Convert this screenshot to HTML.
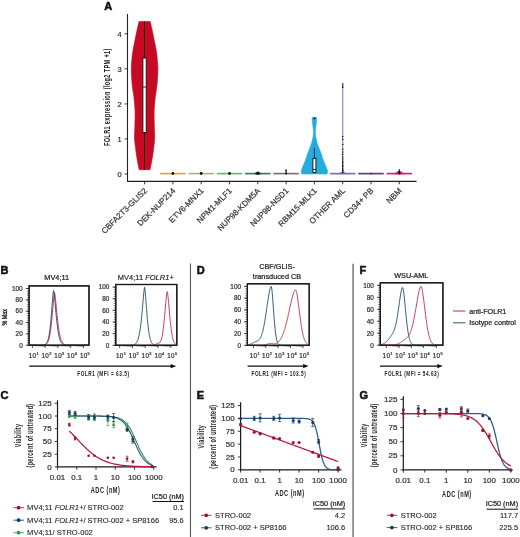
<!DOCTYPE html>
<html><head><meta charset="utf-8"><style>
html,body{margin:0;padding:0;background:#fff;}
body{width:520px;height:537px;overflow:hidden;}
svg{display:block;font-family:"Liberation Sans", sans-serif;will-change:transform;}
</style></head><body>
<svg width="520" height="537" viewBox="0 0 520 537">
<rect x="0" y="0" width="520" height="537" fill="#fff"/>
<text x="104.2" y="9.8" font-size="11" text-anchor="start" fill="#111" font-weight="bold" font-style="normal" stroke="#111" stroke-width="0.55">A</text>
<path d="M150.2 21.5 L150.79 24.01 L151.36 26.52 L151.92 29.04 L152.47 31.55 L153 34.06 L153.52 36.57 L154.02 39.08 L154.52 41.59 L155.04 44.11 L155.55 46.62 L156.04 49.13 L156.46 51.64 L156.81 54.15 L157.07 56.67 L157.32 59.18 L157.55 61.69 L157.74 64.2 L157.86 66.71 L157.9 69.23 L157.86 71.74 L157.77 74.25 L157.63 76.76 L157.47 79.27 L157.29 81.78 L157.09 84.3 L156.81 86.81 L156.46 89.32 L156.08 91.83 L155.69 94.34 L155.34 96.86 L155.06 99.37 L154.84 101.88 L154.61 104.39 L154.41 106.9 L154.24 109.42 L154.13 111.93 L154.1 114.44 L154.12 116.95 L154.17 119.46 L154.23 121.97 L154.29 124.49 L154.36 127 L154.47 129.51 L154.58 132.02 L154.67 134.53 L154.7 137.05 L154.61 139.56 L154.4 142.07 L154.11 144.58 L153.8 147.09 L153.51 149.61 L153.18 152.12 L152.82 154.63 L152.43 157.14 L152.01 159.65 L151.57 162.16 L151.09 164.68 L150.56 167.19 L150 169.7 L139.2 169.7 L138.64 167.19 L138.11 164.68 L137.63 162.16 L137.19 159.65 L136.77 157.14 L136.38 154.63 L136.02 152.12 L135.69 149.61 L135.4 147.09 L135.09 144.58 L134.8 142.07 L134.59 139.56 L134.5 137.05 L134.53 134.53 L134.62 132.02 L134.73 129.51 L134.84 127 L134.91 124.49 L134.97 121.97 L135.03 119.46 L135.08 116.95 L135.1 114.44 L135.07 111.93 L134.96 109.42 L134.79 106.9 L134.59 104.39 L134.36 101.88 L134.14 99.37 L133.86 96.86 L133.51 94.34 L133.12 91.83 L132.74 89.32 L132.39 86.81 L132.11 84.3 L131.91 81.78 L131.73 79.27 L131.57 76.76 L131.43 74.25 L131.34 71.74 L131.3 69.23 L131.34 66.71 L131.46 64.2 L131.65 61.69 L131.88 59.18 L132.13 56.67 L132.39 54.15 L132.74 51.64 L133.16 49.13 L133.65 46.62 L134.16 44.11 L134.68 41.59 L135.18 39.08 L135.68 36.57 L136.2 34.06 L136.73 31.55 L137.28 29.04 L137.84 26.52 L138.41 24.01 L139 21.5 Z" fill="#c60a24" stroke="#c60a24" stroke-width="0.6"/>
<line x1="144.5" y1="21.5" x2="144.5" y2="169.7" stroke="#1a1a1a" stroke-width="0.9"/>
<rect x="142.9" y="58" width="3.3" height="74.5" fill="#fff" stroke="#111" stroke-width="0.9"/>
<line x1="142.9" y1="87" x2="146.2" y2="87" stroke="#111" stroke-width="0.9"/>
<line x1="160.1" y1="173.6" x2="185.7" y2="173.6" stroke="#e6b46c" stroke-width="1.7"/>
<line x1="160.6" y1="173.6" x2="185.2" y2="173.6" stroke="#b08a48" stroke-width="0.5"/>
<line x1="188.4" y1="173.6" x2="214" y2="173.6" stroke="#c6c8b0" stroke-width="1.7"/>
<line x1="188.9" y1="173.6" x2="213.5" y2="173.6" stroke="#8a8c78" stroke-width="0.5"/>
<line x1="216.7" y1="173.6" x2="242.3" y2="173.6" stroke="#8fc585" stroke-width="1.7"/>
<line x1="217.2" y1="173.6" x2="241.8" y2="173.6" stroke="#56964e" stroke-width="0.5"/>
<line x1="245" y1="173.6" x2="270.6" y2="173.6" stroke="#4f8c7a" stroke-width="1.7"/>
<line x1="245.5" y1="173.6" x2="270.1" y2="173.6" stroke="#2a5a4c" stroke-width="0.5"/>
<line x1="273.3" y1="173.6" x2="298.9" y2="173.6" stroke="#8c8494" stroke-width="1.7"/>
<line x1="273.8" y1="173.6" x2="298.4" y2="173.6" stroke="#5a5062" stroke-width="0.5"/>
<line x1="329.9" y1="173.6" x2="355.5" y2="173.6" stroke="#8a88b4" stroke-width="1.7"/>
<line x1="330.4" y1="173.6" x2="355" y2="173.6" stroke="#5a5884" stroke-width="0.5"/>
<line x1="358.2" y1="173.6" x2="383.8" y2="173.6" stroke="#6e4e7e" stroke-width="1.7"/>
<line x1="358.7" y1="173.6" x2="383.3" y2="173.6" stroke="#4a2c5a" stroke-width="0.5"/>
<line x1="386.5" y1="173.6" x2="412.1" y2="173.6" stroke="#da3c82" stroke-width="1.7"/>
<line x1="387" y1="173.6" x2="411.6" y2="173.6" stroke="#a81c5c" stroke-width="0.5"/>
<path d="M252.8 173.9 L257.8 172 L262.8 173.9 Z" fill="#2a5a4c" stroke="none" stroke-width="1"/>
<path d="M335.7 174.2 L342.7 171.6 L349.7 174.2 Z" fill="#7a78b4" stroke="none" stroke-width="1"/>
<path d="M392.8 174.3 L399.3 170.5 L405.8 174.3 Z" fill="#c82a70" stroke="none" stroke-width="1"/>
<circle cx="172.9" cy="173.5" r="1.4" fill="#111"/>
<circle cx="201.2" cy="173.5" r="1.4" fill="#111"/>
<circle cx="229.5" cy="173.5" r="1.4" fill="#111"/>
<circle cx="257.8" cy="173.5" r="1.4" fill="#111"/>
<circle cx="256.3" cy="173.5" r="1" fill="#111"/>
<circle cx="259.3" cy="173.5" r="1" fill="#111"/>
<circle cx="257.8" cy="172.4" r="1" fill="#111"/>
<circle cx="371" cy="173.6" r="0.9" fill="#333"/>
<line x1="286.1" y1="169.8" x2="286.1" y2="173.6" stroke="#111" stroke-width="1.1"/>
<circle cx="286.1" cy="173.4" r="1" fill="#111"/>
<circle cx="286.1" cy="170.4" r="0.8" fill="#111"/>
<line x1="399.3" y1="169" x2="399.3" y2="173.8" stroke="#111" stroke-width="0.9"/>
<circle cx="399.3" cy="171.8" r="1" fill="#111"/>
<circle cx="399.3" cy="173.4" r="1.1" fill="#111"/>
<path d="M316.6 117.6 L316.6 118.56 L316.6 119.51 L316.59 120.47 L316.52 121.42 L316.41 122.38 L316.28 123.34 L316.16 124.29 L316.03 125.25 L315.89 126.2 L315.75 127.16 L315.64 128.12 L315.53 129.07 L315.42 130.03 L315.34 130.98 L315.3 131.94 L315.32 132.89 L315.38 133.85 L315.47 134.81 L315.57 135.76 L315.7 136.72 L315.87 137.67 L316.08 138.63 L316.3 139.59 L316.53 140.54 L316.77 141.5 L317.03 142.45 L317.32 143.41 L317.62 144.37 L317.96 145.32 L318.32 146.28 L318.7 147.23 L319.08 148.19 L319.46 149.15 L319.83 150.1 L320.21 151.06 L320.59 152.01 L320.96 152.97 L321.32 153.93 L321.66 154.88 L321.97 155.84 L322.24 156.79 L322.51 157.75 L322.78 158.71 L323.08 159.66 L323.43 160.62 L323.81 161.57 L324.23 162.53 L324.65 163.48 L325.07 164.44 L325.47 165.4 L325.88 166.35 L326.29 167.31 L326.66 168.26 L326.97 169.22 L327.26 170.18 L327.51 171.13 L327.6 172.09 L327.41 173.04 L327 174 L301.8 174 L301.39 173.04 L301.2 172.09 L301.29 171.13 L301.54 170.18 L301.83 169.22 L302.14 168.26 L302.51 167.31 L302.92 166.35 L303.33 165.4 L303.73 164.44 L304.15 163.48 L304.57 162.53 L304.99 161.57 L305.37 160.62 L305.72 159.66 L306.02 158.71 L306.29 157.75 L306.56 156.79 L306.83 155.84 L307.14 154.88 L307.48 153.93 L307.84 152.97 L308.21 152.01 L308.59 151.06 L308.97 150.1 L309.34 149.15 L309.72 148.19 L310.1 147.23 L310.48 146.28 L310.84 145.32 L311.18 144.37 L311.48 143.41 L311.77 142.45 L312.03 141.5 L312.27 140.54 L312.5 139.59 L312.72 138.63 L312.93 137.67 L313.1 136.72 L313.23 135.76 L313.33 134.81 L313.42 133.85 L313.48 132.89 L313.5 131.94 L313.46 130.98 L313.38 130.03 L313.27 129.07 L313.16 128.12 L313.05 127.16 L312.91 126.2 L312.77 125.25 L312.64 124.29 L312.52 123.34 L312.39 122.38 L312.28 121.42 L312.21 120.47 L312.2 119.51 L312.2 118.56 L312.2 117.6 Z" fill="#26abdf" stroke="#26abdf" stroke-width="0.6"/>
<circle cx="314.4" cy="118.2" r="1" fill="#111"/>
<line x1="314.4" y1="147.8" x2="314.4" y2="158.3" stroke="#111" stroke-width="0.8"/>
<rect x="312.9" y="158.3" width="3" height="14.2" fill="#fff" stroke="#111" stroke-width="0.9"/>
<line x1="312.9" y1="169.5" x2="315.9" y2="169.5" stroke="#111" stroke-width="0.9"/>
<line x1="342.7" y1="83.8" x2="342.7" y2="173.8" stroke="#a09ec6" stroke-width="1.4"/>
<circle cx="342.7" cy="83.9" r="0.75" fill="#111"/>
<circle cx="342.7" cy="86" r="0.75" fill="#111"/>
<circle cx="342.7" cy="87.6" r="0.75" fill="#111"/>
<circle cx="342.7" cy="136.6" r="0.75" fill="#111"/>
<circle cx="342.7" cy="139.5" r="0.75" fill="#111"/>
<circle cx="342.7" cy="144.4" r="0.75" fill="#111"/>
<circle cx="342.7" cy="149.3" r="0.75" fill="#111"/>
<circle cx="342.7" cy="152" r="0.75" fill="#111"/>
<circle cx="342.7" cy="154.2" r="0.75" fill="#111"/>
<circle cx="342.7" cy="157" r="0.75" fill="#111"/>
<circle cx="342.7" cy="159" r="0.75" fill="#111"/>
<circle cx="342.7" cy="161" r="0.75" fill="#111"/>
<circle cx="342.7" cy="162.6" r="0.75" fill="#111"/>
<circle cx="342.7" cy="164" r="0.75" fill="#111"/>
<circle cx="342.7" cy="165.5" r="0.75" fill="#111"/>
<circle cx="342.7" cy="166.6" r="0.75" fill="#111"/>
<circle cx="342.7" cy="168" r="0.75" fill="#111"/>
<circle cx="342.7" cy="168.9" r="0.75" fill="#111"/>
<circle cx="342.7" cy="170" r="0.75" fill="#111"/>
<circle cx="342.7" cy="170.8" r="0.75" fill="#111"/>
<circle cx="342.7" cy="171.8" r="0.75" fill="#111"/>
<circle cx="342.7" cy="172.8" r="0.75" fill="#111"/>
<line x1="127.5" y1="13.9" x2="127.5" y2="181.8" stroke="#222" stroke-width="1.1"/>
<line x1="127" y1="181.3" x2="416.6" y2="181.3" stroke="#222" stroke-width="1.3"/>
<line x1="124.6" y1="174" x2="127.5" y2="174" stroke="#222" stroke-width="0.9"/>
<text x="121.7" y="176.7" font-size="7.5" text-anchor="end" fill="#333" font-weight="normal" font-style="normal" stroke="#333" stroke-width="0.22">0</text>
<line x1="124.6" y1="138.95" x2="127.5" y2="138.95" stroke="#222" stroke-width="0.9"/>
<text x="121.7" y="141.65" font-size="7.5" text-anchor="end" fill="#333" font-weight="normal" font-style="normal" stroke="#333" stroke-width="0.22">1</text>
<line x1="124.6" y1="103.9" x2="127.5" y2="103.9" stroke="#222" stroke-width="0.9"/>
<text x="121.7" y="106.6" font-size="7.5" text-anchor="end" fill="#333" font-weight="normal" font-style="normal" stroke="#333" stroke-width="0.22">2</text>
<line x1="124.6" y1="68.85" x2="127.5" y2="68.85" stroke="#222" stroke-width="0.9"/>
<text x="121.7" y="71.55" font-size="7.5" text-anchor="end" fill="#333" font-weight="normal" font-style="normal" stroke="#333" stroke-width="0.22">3</text>
<line x1="124.6" y1="33.8" x2="127.5" y2="33.8" stroke="#222" stroke-width="0.9"/>
<text x="121.7" y="36.5" font-size="7.5" text-anchor="end" fill="#333" font-weight="normal" font-style="normal" stroke="#333" stroke-width="0.22">4</text>
<line x1="144.6" y1="181.3" x2="144.6" y2="184.3" stroke="#222" stroke-width="0.9"/>
<text x="0" y="0" font-size="8.1" text-anchor="end" fill="#333" font-weight="normal" font-style="normal" transform="translate(147.6,191.3) rotate(-45)" stroke="#333" stroke-width="0.22">CBFA2T3-GLIS2</text>
<line x1="172.9" y1="181.3" x2="172.9" y2="184.3" stroke="#222" stroke-width="0.9"/>
<text x="0" y="0" font-size="8.1" text-anchor="end" fill="#333" font-weight="normal" font-style="normal" transform="translate(175.9,191.3) rotate(-45)" stroke="#333" stroke-width="0.22">DEK-NUP214</text>
<line x1="201.2" y1="181.3" x2="201.2" y2="184.3" stroke="#222" stroke-width="0.9"/>
<text x="0" y="0" font-size="8.1" text-anchor="end" fill="#333" font-weight="normal" font-style="normal" transform="translate(204.2,191.3) rotate(-45)" stroke="#333" stroke-width="0.22">ETV6-MNX1</text>
<line x1="229.5" y1="181.3" x2="229.5" y2="184.3" stroke="#222" stroke-width="0.9"/>
<text x="0" y="0" font-size="8.1" text-anchor="end" fill="#333" font-weight="normal" font-style="normal" transform="translate(232.5,191.3) rotate(-45)" stroke="#333" stroke-width="0.22">NPM1-MLF1</text>
<line x1="257.8" y1="181.3" x2="257.8" y2="184.3" stroke="#222" stroke-width="0.9"/>
<text x="0" y="0" font-size="8.1" text-anchor="end" fill="#333" font-weight="normal" font-style="normal" transform="translate(260.8,191.3) rotate(-45)" stroke="#333" stroke-width="0.22">NUP98-KDM5A</text>
<line x1="286.1" y1="181.3" x2="286.1" y2="184.3" stroke="#222" stroke-width="0.9"/>
<text x="0" y="0" font-size="8.1" text-anchor="end" fill="#333" font-weight="normal" font-style="normal" transform="translate(289.1,191.3) rotate(-45)" stroke="#333" stroke-width="0.22">NUP98-NSD1</text>
<line x1="314.4" y1="181.3" x2="314.4" y2="184.3" stroke="#222" stroke-width="0.9"/>
<text x="0" y="0" font-size="8.1" text-anchor="end" fill="#333" font-weight="normal" font-style="normal" transform="translate(317.4,191.3) rotate(-45)" stroke="#333" stroke-width="0.22">RBM15-MLK1</text>
<line x1="342.7" y1="181.3" x2="342.7" y2="184.3" stroke="#222" stroke-width="0.9"/>
<text x="0" y="0" font-size="8.1" text-anchor="end" fill="#333" font-weight="normal" font-style="normal" transform="translate(345.7,191.3) rotate(-45)" stroke="#333" stroke-width="0.22">OTHER AML</text>
<line x1="371" y1="181.3" x2="371" y2="184.3" stroke="#222" stroke-width="0.9"/>
<text x="0" y="0" font-size="8.1" text-anchor="end" fill="#333" font-weight="normal" font-style="normal" transform="translate(374,191.3) rotate(-45)" stroke="#333" stroke-width="0.22">CD34+ PB</text>
<line x1="399.3" y1="181.3" x2="399.3" y2="184.3" stroke="#222" stroke-width="0.9"/>
<text x="0" y="0" font-size="8.1" text-anchor="end" fill="#333" font-weight="normal" font-style="normal" transform="translate(402.3,191.3) rotate(-45)" stroke="#333" stroke-width="0.22">NBM</text>
<text x="0" y="0" font-size="8.4" text-anchor="middle" fill="#222" font-weight="bold" font-style="normal" transform="translate(110.3,97.2) rotate(-90) scale(0.67,1)" letter-spacing="0.5">FOLR1 expression (log2 TPM +1)</text>
<line x1="190.45" y1="263.5" x2="190.45" y2="537" stroke="#4e4e4e" stroke-width="1.05"/>
<line x1="353.1" y1="263.8" x2="353.1" y2="537" stroke="#6c6c6c" stroke-width="1.4"/>
<text x="0.6" y="274.2" font-size="11" text-anchor="start" fill="#111" font-weight="bold" font-style="normal" stroke="#111" stroke-width="0.55">B</text>
<line x1="25.9" y1="345.2" x2="29.1" y2="345.2" stroke="#222" stroke-width="0.9"/>
<text x="22.7" y="347.5" font-size="6.4" text-anchor="end" fill="#333" font-weight="normal" font-style="normal" stroke="#333" stroke-width="0.22">0</text>
<line x1="25.9" y1="333.86" x2="29.1" y2="333.86" stroke="#222" stroke-width="0.9"/>
<text x="22.7" y="336.16" font-size="6.4" text-anchor="end" fill="#333" font-weight="normal" font-style="normal" stroke="#333" stroke-width="0.22">20</text>
<line x1="25.9" y1="322.52" x2="29.1" y2="322.52" stroke="#222" stroke-width="0.9"/>
<text x="22.7" y="324.82" font-size="6.4" text-anchor="end" fill="#333" font-weight="normal" font-style="normal" stroke="#333" stroke-width="0.22">40</text>
<line x1="25.9" y1="311.18" x2="29.1" y2="311.18" stroke="#222" stroke-width="0.9"/>
<text x="22.7" y="313.48" font-size="6.4" text-anchor="end" fill="#333" font-weight="normal" font-style="normal" stroke="#333" stroke-width="0.22">60</text>
<line x1="25.9" y1="299.84" x2="29.1" y2="299.84" stroke="#222" stroke-width="0.9"/>
<text x="22.7" y="302.14" font-size="6.4" text-anchor="end" fill="#333" font-weight="normal" font-style="normal" stroke="#333" stroke-width="0.22">80</text>
<line x1="25.9" y1="288.5" x2="29.1" y2="288.5" stroke="#222" stroke-width="0.9"/>
<text x="22.7" y="290.8" font-size="6.4" text-anchor="end" fill="#333" font-weight="normal" font-style="normal" stroke="#333" stroke-width="0.22">100</text>
<line x1="27.2" y1="345.2" x2="29.1" y2="345.2" stroke="#333" stroke-width="0.75"/>
<line x1="27.2" y1="342.93" x2="29.1" y2="342.93" stroke="#333" stroke-width="0.75"/>
<line x1="27.2" y1="340.66" x2="29.1" y2="340.66" stroke="#333" stroke-width="0.75"/>
<line x1="27.2" y1="338.4" x2="29.1" y2="338.4" stroke="#333" stroke-width="0.75"/>
<line x1="27.2" y1="336.13" x2="29.1" y2="336.13" stroke="#333" stroke-width="0.75"/>
<line x1="27.2" y1="333.86" x2="29.1" y2="333.86" stroke="#333" stroke-width="0.75"/>
<line x1="27.2" y1="331.59" x2="29.1" y2="331.59" stroke="#333" stroke-width="0.75"/>
<line x1="27.2" y1="329.32" x2="29.1" y2="329.32" stroke="#333" stroke-width="0.75"/>
<line x1="27.2" y1="327.06" x2="29.1" y2="327.06" stroke="#333" stroke-width="0.75"/>
<line x1="27.2" y1="324.79" x2="29.1" y2="324.79" stroke="#333" stroke-width="0.75"/>
<line x1="27.2" y1="322.52" x2="29.1" y2="322.52" stroke="#333" stroke-width="0.75"/>
<line x1="27.2" y1="320.25" x2="29.1" y2="320.25" stroke="#333" stroke-width="0.75"/>
<line x1="27.2" y1="317.98" x2="29.1" y2="317.98" stroke="#333" stroke-width="0.75"/>
<line x1="27.2" y1="315.72" x2="29.1" y2="315.72" stroke="#333" stroke-width="0.75"/>
<line x1="27.2" y1="313.45" x2="29.1" y2="313.45" stroke="#333" stroke-width="0.75"/>
<line x1="27.2" y1="311.18" x2="29.1" y2="311.18" stroke="#333" stroke-width="0.75"/>
<line x1="27.2" y1="308.91" x2="29.1" y2="308.91" stroke="#333" stroke-width="0.75"/>
<line x1="27.2" y1="306.64" x2="29.1" y2="306.64" stroke="#333" stroke-width="0.75"/>
<line x1="27.2" y1="304.38" x2="29.1" y2="304.38" stroke="#333" stroke-width="0.75"/>
<line x1="27.2" y1="302.11" x2="29.1" y2="302.11" stroke="#333" stroke-width="0.75"/>
<line x1="27.2" y1="299.84" x2="29.1" y2="299.84" stroke="#333" stroke-width="0.75"/>
<line x1="27.2" y1="297.57" x2="29.1" y2="297.57" stroke="#333" stroke-width="0.75"/>
<line x1="27.2" y1="295.3" x2="29.1" y2="295.3" stroke="#333" stroke-width="0.75"/>
<line x1="27.2" y1="293.04" x2="29.1" y2="293.04" stroke="#333" stroke-width="0.75"/>
<line x1="27.2" y1="290.77" x2="29.1" y2="290.77" stroke="#333" stroke-width="0.75"/>
<line x1="27.2" y1="288.5" x2="29.1" y2="288.5" stroke="#333" stroke-width="0.75"/>
<line x1="32.4" y1="345.2" x2="32.4" y2="348" stroke="#222" stroke-width="0.8"/>
<line x1="36.25" y1="345.2" x2="36.25" y2="346.7" stroke="#333" stroke-width="0.5"/>
<line x1="38.51" y1="345.2" x2="38.51" y2="346.7" stroke="#333" stroke-width="0.5"/>
<line x1="40.11" y1="345.2" x2="40.11" y2="346.7" stroke="#333" stroke-width="0.5"/>
<line x1="41.35" y1="345.2" x2="41.35" y2="346.7" stroke="#333" stroke-width="0.5"/>
<line x1="42.36" y1="345.2" x2="42.36" y2="346.7" stroke="#333" stroke-width="0.5"/>
<line x1="43.22" y1="345.2" x2="43.22" y2="346.7" stroke="#333" stroke-width="0.5"/>
<line x1="43.96" y1="345.2" x2="43.96" y2="346.7" stroke="#333" stroke-width="0.5"/>
<line x1="44.61" y1="345.2" x2="44.61" y2="346.7" stroke="#333" stroke-width="0.5"/>
<text x="28.7" y="357.6" font-size="6.3" text-anchor="start" fill="#333" font-weight="normal" font-style="normal" letter-spacing="0.35" stroke="#333" stroke-width="0.22">10</text>
<text x="36.4" y="354.5" font-size="3.9" text-anchor="start" fill="#333" font-weight="normal" font-style="normal" stroke="#333" stroke-width="0.22">1</text>
<line x1="45.2" y1="345.2" x2="45.2" y2="348" stroke="#222" stroke-width="0.8"/>
<line x1="49.05" y1="345.2" x2="49.05" y2="346.7" stroke="#333" stroke-width="0.5"/>
<line x1="51.31" y1="345.2" x2="51.31" y2="346.7" stroke="#333" stroke-width="0.5"/>
<line x1="52.91" y1="345.2" x2="52.91" y2="346.7" stroke="#333" stroke-width="0.5"/>
<line x1="54.15" y1="345.2" x2="54.15" y2="346.7" stroke="#333" stroke-width="0.5"/>
<line x1="55.16" y1="345.2" x2="55.16" y2="346.7" stroke="#333" stroke-width="0.5"/>
<line x1="56.02" y1="345.2" x2="56.02" y2="346.7" stroke="#333" stroke-width="0.5"/>
<line x1="56.76" y1="345.2" x2="56.76" y2="346.7" stroke="#333" stroke-width="0.5"/>
<line x1="57.41" y1="345.2" x2="57.41" y2="346.7" stroke="#333" stroke-width="0.5"/>
<text x="41.5" y="357.6" font-size="6.3" text-anchor="start" fill="#333" font-weight="normal" font-style="normal" letter-spacing="0.35" stroke="#333" stroke-width="0.22">10</text>
<text x="49.2" y="354.5" font-size="3.9" text-anchor="start" fill="#333" font-weight="normal" font-style="normal" stroke="#333" stroke-width="0.22">2</text>
<line x1="58" y1="345.2" x2="58" y2="348" stroke="#222" stroke-width="0.8"/>
<line x1="61.85" y1="345.2" x2="61.85" y2="346.7" stroke="#333" stroke-width="0.5"/>
<line x1="64.11" y1="345.2" x2="64.11" y2="346.7" stroke="#333" stroke-width="0.5"/>
<line x1="65.71" y1="345.2" x2="65.71" y2="346.7" stroke="#333" stroke-width="0.5"/>
<line x1="66.95" y1="345.2" x2="66.95" y2="346.7" stroke="#333" stroke-width="0.5"/>
<line x1="67.96" y1="345.2" x2="67.96" y2="346.7" stroke="#333" stroke-width="0.5"/>
<line x1="68.82" y1="345.2" x2="68.82" y2="346.7" stroke="#333" stroke-width="0.5"/>
<line x1="69.56" y1="345.2" x2="69.56" y2="346.7" stroke="#333" stroke-width="0.5"/>
<line x1="70.21" y1="345.2" x2="70.21" y2="346.7" stroke="#333" stroke-width="0.5"/>
<text x="54.3" y="357.6" font-size="6.3" text-anchor="start" fill="#333" font-weight="normal" font-style="normal" letter-spacing="0.35" stroke="#333" stroke-width="0.22">10</text>
<text x="62" y="354.5" font-size="3.9" text-anchor="start" fill="#333" font-weight="normal" font-style="normal" stroke="#333" stroke-width="0.22">3</text>
<line x1="70.8" y1="345.2" x2="70.8" y2="348" stroke="#222" stroke-width="0.8"/>
<line x1="74.65" y1="345.2" x2="74.65" y2="346.7" stroke="#333" stroke-width="0.5"/>
<line x1="76.91" y1="345.2" x2="76.91" y2="346.7" stroke="#333" stroke-width="0.5"/>
<line x1="78.51" y1="345.2" x2="78.51" y2="346.7" stroke="#333" stroke-width="0.5"/>
<line x1="79.75" y1="345.2" x2="79.75" y2="346.7" stroke="#333" stroke-width="0.5"/>
<line x1="80.76" y1="345.2" x2="80.76" y2="346.7" stroke="#333" stroke-width="0.5"/>
<line x1="81.62" y1="345.2" x2="81.62" y2="346.7" stroke="#333" stroke-width="0.5"/>
<line x1="82.36" y1="345.2" x2="82.36" y2="346.7" stroke="#333" stroke-width="0.5"/>
<line x1="83.01" y1="345.2" x2="83.01" y2="346.7" stroke="#333" stroke-width="0.5"/>
<text x="67.1" y="357.6" font-size="6.3" text-anchor="start" fill="#333" font-weight="normal" font-style="normal" letter-spacing="0.35" stroke="#333" stroke-width="0.22">10</text>
<text x="74.8" y="354.5" font-size="3.9" text-anchor="start" fill="#333" font-weight="normal" font-style="normal" stroke="#333" stroke-width="0.22">4</text>
<line x1="83.6" y1="345.2" x2="83.6" y2="348" stroke="#222" stroke-width="0.8"/>
<text x="79.9" y="357.6" font-size="6.3" text-anchor="start" fill="#333" font-weight="normal" font-style="normal" letter-spacing="0.35" stroke="#333" stroke-width="0.22">10</text>
<text x="87.6" y="354.5" font-size="3.9" text-anchor="start" fill="#333" font-weight="normal" font-style="normal" stroke="#333" stroke-width="0.22">5</text>
<rect x="29.1" y="285.9" width="59.9" height="59.3" fill="none" stroke="#1a1a1a" stroke-width="1.2"/>
<path d="M29.5 345.2 L29.8 345.2 L30.09 345.2 L30.39 345.2 L30.69 345.2 L30.98 345.2 L31.28 345.2 L31.58 345.2 L31.88 345.2 L32.17 345.2 L32.47 345.2 L32.77 345.2 L33.06 345.2 L33.36 345.2 L33.66 345.2 L33.95 345.2 L34.25 345.2 L34.55 345.2 L34.85 345.2 L35.14 345.2 L35.44 345.2 L35.74 345.2 L36.03 345.2 L36.33 345.2 L36.63 345.2 L36.92 345.2 L37.22 345.2 L37.52 345.2 L37.82 345.2 L38.11 345.2 L38.41 345.2 L38.71 345.2 L39 345.2 L39.3 345.2 L39.6 345.2 L39.89 345.19 L40.19 345.19 L40.49 345.19 L40.79 345.19 L41.08 345.18 L41.38 345.18 L41.68 345.17 L41.97 345.16 L42.27 345.15 L42.57 345.14 L42.86 345.12 L43.16 345.1 L43.46 345.07 L43.76 345.04 L44.05 344.99 L44.35 344.94 L44.65 344.87 L44.94 344.79 L45.24 344.69 L45.54 344.56 L45.83 344.4 L46.13 344.21 L46.43 343.98 L46.73 343.7 L47.02 343.37 L47.32 342.97 L47.62 342.49 L47.91 341.92 L48.21 341.25 L48.51 340.47 L48.8 339.55 L49.1 338.49 L49.4 337.26 L49.69 335.85 L49.99 334.26 L50.29 332.45 L50.59 330.42 L50.88 328.17 L51.18 325.68 L51.48 322.96 L51.77 320.02 L52.07 316.88 L52.37 313.58 L52.66 310.14 L52.96 306.65 L53.26 303.18 L53.56 299.84 L53.85 296.78 L54.15 294.22 L54.45 292.56 L54.74 293.3 L55.04 295.2 L55.34 297.62 L55.63 300.37 L55.93 303.31 L56.23 306.35 L56.53 309.41 L56.82 312.43 L57.12 315.38 L57.42 318.21 L57.71 320.89 L58.01 323.42 L58.31 325.78 L58.6 327.96 L58.9 329.96 L59.2 331.79 L59.5 333.45 L59.79 334.94 L60.09 336.28 L60.39 337.47 L60.68 338.53 L60.98 339.46 L61.28 340.28 L61.57 341 L61.87 341.62 L62.17 342.17 L62.47 342.63 L62.76 343.04 L63.06 343.38 L63.36 343.68 L63.65 343.93 L63.95 344.14 L64.25 344.32 L64.54 344.47 L64.84 344.6 L65.14 344.7 L65.44 344.79 L65.73 344.87 L66.03 344.93 L66.33 344.98 L66.62 345.02 L66.92 345.05 L67.22 345.08 L67.51 345.1 L67.81 345.12 L68.11 345.14 L68.41 345.15 L68.7 345.16 L69 345.17 L69.3 345.17 L69.59 345.18 L69.89 345.18 L70.19 345.19 L70.48 345.19 L70.78 345.19 L71.08 345.19 L71.37 345.2 L71.67 345.2 L71.97 345.2 L72.27 345.2 L72.56 345.2 L72.86 345.2 L73.16 345.2 L73.45 345.2 L73.75 345.2 L74.05 345.2 L74.34 345.2 L74.64 345.2 L74.94 345.2 L75.24 345.2 L75.53 345.2 L75.83 345.2 L76.13 345.2 L76.42 345.2 L76.72 345.2 L77.02 345.2 L77.31 345.2 L77.61 345.2 L77.91 345.2 L78.21 345.2 L78.5 345.2 L78.8 345.2 L79.1 345.2 L79.39 345.2 L79.69 345.2 L79.99 345.2 L80.28 345.2 L80.58 345.2 L80.88 345.2 L81.18 345.2 L81.47 345.2 L81.77 345.2 L82.07 345.2 L82.36 345.2 L82.66 345.2 L82.96 345.2 L83.25 345.2 L83.55 345.2 L83.85 345.2 L84.15 345.2 L84.44 345.2 L84.74 345.2 L85.04 345.2 L85.33 345.2 L85.63 345.2 L85.93 345.2 L86.22 345.2 L86.52 345.2 L86.82 345.2 L87.12 345.2 L87.41 345.2 L87.71 345.2 L88.01 345.2 L88.3 345.2 L88.6 345.2" fill="none" stroke="#c22a4c" stroke-width="0.9" stroke-linejoin="round"/>
<path d="M29.5 345.2 L29.8 345.2 L30.09 345.2 L30.39 345.2 L30.69 345.2 L30.98 345.2 L31.28 345.2 L31.58 345.2 L31.88 345.2 L32.17 345.2 L32.47 345.2 L32.77 345.2 L33.06 345.2 L33.36 345.2 L33.66 345.2 L33.95 345.2 L34.25 345.2 L34.55 345.2 L34.85 345.2 L35.14 345.2 L35.44 345.2 L35.74 345.2 L36.03 345.2 L36.33 345.2 L36.63 345.2 L36.92 345.2 L37.22 345.2 L37.52 345.2 L37.82 345.2 L38.11 345.2 L38.41 345.2 L38.71 345.2 L39 345.2 L39.3 345.2 L39.6 345.19 L39.89 345.19 L40.19 345.19 L40.49 345.19 L40.79 345.18 L41.08 345.18 L41.38 345.17 L41.68 345.16 L41.97 345.15 L42.27 345.14 L42.57 345.12 L42.86 345.09 L43.16 345.06 L43.46 345.02 L43.76 344.97 L44.05 344.9 L44.35 344.82 L44.65 344.72 L44.94 344.59 L45.24 344.44 L45.54 344.24 L45.83 344.01 L46.13 343.72 L46.43 343.37 L46.73 342.94 L47.02 342.43 L47.32 341.81 L47.62 341.09 L47.91 340.22 L48.21 339.21 L48.51 338.03 L48.8 336.66 L49.1 335.07 L49.4 333.27 L49.69 331.22 L49.99 328.91 L50.29 326.34 L50.59 323.51 L50.88 320.41 L51.18 317.08 L51.48 313.54 L51.77 309.83 L52.07 306.04 L52.37 302.24 L52.66 298.57 L52.96 295.21 L53.26 292.39 L53.56 290.58 L53.85 291.48 L54.15 293.6 L54.45 296.27 L54.74 299.29 L55.04 302.5 L55.34 305.8 L55.63 309.11 L55.93 312.36 L56.23 315.5 L56.53 318.5 L56.82 321.33 L57.12 323.97 L57.42 326.41 L57.71 328.65 L58.01 330.7 L58.31 332.55 L58.6 334.21 L58.9 335.69 L59.2 337.01 L59.5 338.17 L59.79 339.19 L60.09 340.08 L60.39 340.86 L60.68 341.53 L60.98 342.11 L61.28 342.61 L61.57 343.03 L61.87 343.39 L62.17 343.7 L62.47 343.96 L62.76 344.17 L63.06 344.35 L63.36 344.51 L63.65 344.63 L63.95 344.74 L64.25 344.82 L64.54 344.9 L64.84 344.95 L65.14 345 L65.44 345.04 L65.73 345.07 L66.03 345.1 L66.33 345.12 L66.62 345.14 L66.92 345.15 L67.22 345.16 L67.51 345.17 L67.81 345.17 L68.11 345.18 L68.41 345.18 L68.7 345.19 L69 345.19 L69.3 345.19 L69.59 345.19 L69.89 345.2 L70.19 345.2 L70.48 345.2 L70.78 345.2 L71.08 345.2 L71.37 345.2 L71.67 345.2 L71.97 345.2 L72.27 345.2 L72.56 345.2 L72.86 345.2 L73.16 345.2 L73.45 345.2 L73.75 345.2 L74.05 345.2 L74.34 345.2 L74.64 345.2 L74.94 345.2 L75.24 345.2 L75.53 345.2 L75.83 345.2 L76.13 345.2 L76.42 345.2 L76.72 345.2 L77.02 345.2 L77.31 345.2 L77.61 345.2 L77.91 345.2 L78.21 345.2 L78.5 345.2 L78.8 345.2 L79.1 345.2 L79.39 345.2 L79.69 345.2 L79.99 345.2 L80.28 345.2 L80.58 345.2 L80.88 345.2 L81.18 345.2 L81.47 345.2 L81.77 345.2 L82.07 345.2 L82.36 345.2 L82.66 345.2 L82.96 345.2 L83.25 345.2 L83.55 345.2 L83.85 345.2 L84.15 345.2 L84.44 345.2 L84.74 345.2 L85.04 345.2 L85.33 345.2 L85.63 345.2 L85.93 345.2 L86.22 345.2 L86.52 345.2 L86.82 345.2 L87.12 345.2 L87.41 345.2 L87.71 345.2 L88.01 345.2 L88.3 345.2 L88.6 345.2" fill="none" stroke="#263f68" stroke-width="0.9" stroke-linejoin="round"/>
<rect x="29.1" y="285.9" width="59.9" height="59.3" fill="none" stroke="#1a1a1a" stroke-width="1.2"/>
<text x="56.7" y="279.9" font-size="7.4" text-anchor="middle" fill="#222" font-weight="normal" font-style="normal" stroke="#222" stroke-width="0.22">MV4;11</text>
<text x="0" y="0" font-size="7.5" text-anchor="middle" fill="#222" font-weight="normal" font-style="normal" transform="translate(6.5,317.4) rotate(-90) scale(0.72,1)" stroke="#222" stroke-width="0.3">% Max</text>
<line x1="112.6" y1="345.3" x2="115.8" y2="345.3" stroke="#222" stroke-width="0.9"/>
<text x="109.4" y="347.6" font-size="6.4" text-anchor="end" fill="#333" font-weight="normal" font-style="normal" stroke="#333" stroke-width="0.22">0</text>
<line x1="112.6" y1="333.66" x2="115.8" y2="333.66" stroke="#222" stroke-width="0.9"/>
<text x="109.4" y="335.96" font-size="6.4" text-anchor="end" fill="#333" font-weight="normal" font-style="normal" stroke="#333" stroke-width="0.22">20</text>
<line x1="112.6" y1="322.02" x2="115.8" y2="322.02" stroke="#222" stroke-width="0.9"/>
<text x="109.4" y="324.32" font-size="6.4" text-anchor="end" fill="#333" font-weight="normal" font-style="normal" stroke="#333" stroke-width="0.22">40</text>
<line x1="112.6" y1="310.38" x2="115.8" y2="310.38" stroke="#222" stroke-width="0.9"/>
<text x="109.4" y="312.68" font-size="6.4" text-anchor="end" fill="#333" font-weight="normal" font-style="normal" stroke="#333" stroke-width="0.22">60</text>
<line x1="112.6" y1="298.74" x2="115.8" y2="298.74" stroke="#222" stroke-width="0.9"/>
<text x="109.4" y="301.04" font-size="6.4" text-anchor="end" fill="#333" font-weight="normal" font-style="normal" stroke="#333" stroke-width="0.22">80</text>
<line x1="112.6" y1="287.1" x2="115.8" y2="287.1" stroke="#222" stroke-width="0.9"/>
<text x="109.4" y="289.4" font-size="6.4" text-anchor="end" fill="#333" font-weight="normal" font-style="normal" stroke="#333" stroke-width="0.22">100</text>
<line x1="113.9" y1="345.3" x2="115.8" y2="345.3" stroke="#333" stroke-width="0.75"/>
<line x1="113.9" y1="342.97" x2="115.8" y2="342.97" stroke="#333" stroke-width="0.75"/>
<line x1="113.9" y1="340.64" x2="115.8" y2="340.64" stroke="#333" stroke-width="0.75"/>
<line x1="113.9" y1="338.32" x2="115.8" y2="338.32" stroke="#333" stroke-width="0.75"/>
<line x1="113.9" y1="335.99" x2="115.8" y2="335.99" stroke="#333" stroke-width="0.75"/>
<line x1="113.9" y1="333.66" x2="115.8" y2="333.66" stroke="#333" stroke-width="0.75"/>
<line x1="113.9" y1="331.33" x2="115.8" y2="331.33" stroke="#333" stroke-width="0.75"/>
<line x1="113.9" y1="329" x2="115.8" y2="329" stroke="#333" stroke-width="0.75"/>
<line x1="113.9" y1="326.68" x2="115.8" y2="326.68" stroke="#333" stroke-width="0.75"/>
<line x1="113.9" y1="324.35" x2="115.8" y2="324.35" stroke="#333" stroke-width="0.75"/>
<line x1="113.9" y1="322.02" x2="115.8" y2="322.02" stroke="#333" stroke-width="0.75"/>
<line x1="113.9" y1="319.69" x2="115.8" y2="319.69" stroke="#333" stroke-width="0.75"/>
<line x1="113.9" y1="317.36" x2="115.8" y2="317.36" stroke="#333" stroke-width="0.75"/>
<line x1="113.9" y1="315.04" x2="115.8" y2="315.04" stroke="#333" stroke-width="0.75"/>
<line x1="113.9" y1="312.71" x2="115.8" y2="312.71" stroke="#333" stroke-width="0.75"/>
<line x1="113.9" y1="310.38" x2="115.8" y2="310.38" stroke="#333" stroke-width="0.75"/>
<line x1="113.9" y1="308.05" x2="115.8" y2="308.05" stroke="#333" stroke-width="0.75"/>
<line x1="113.9" y1="305.72" x2="115.8" y2="305.72" stroke="#333" stroke-width="0.75"/>
<line x1="113.9" y1="303.4" x2="115.8" y2="303.4" stroke="#333" stroke-width="0.75"/>
<line x1="113.9" y1="301.07" x2="115.8" y2="301.07" stroke="#333" stroke-width="0.75"/>
<line x1="113.9" y1="298.74" x2="115.8" y2="298.74" stroke="#333" stroke-width="0.75"/>
<line x1="113.9" y1="296.41" x2="115.8" y2="296.41" stroke="#333" stroke-width="0.75"/>
<line x1="113.9" y1="294.08" x2="115.8" y2="294.08" stroke="#333" stroke-width="0.75"/>
<line x1="113.9" y1="291.76" x2="115.8" y2="291.76" stroke="#333" stroke-width="0.75"/>
<line x1="113.9" y1="289.43" x2="115.8" y2="289.43" stroke="#333" stroke-width="0.75"/>
<line x1="113.9" y1="287.1" x2="115.8" y2="287.1" stroke="#333" stroke-width="0.75"/>
<line x1="119.7" y1="345.3" x2="119.7" y2="348.1" stroke="#222" stroke-width="0.8"/>
<line x1="123.55" y1="345.3" x2="123.55" y2="346.8" stroke="#333" stroke-width="0.5"/>
<line x1="125.81" y1="345.3" x2="125.81" y2="346.8" stroke="#333" stroke-width="0.5"/>
<line x1="127.41" y1="345.3" x2="127.41" y2="346.8" stroke="#333" stroke-width="0.5"/>
<line x1="128.65" y1="345.3" x2="128.65" y2="346.8" stroke="#333" stroke-width="0.5"/>
<line x1="129.66" y1="345.3" x2="129.66" y2="346.8" stroke="#333" stroke-width="0.5"/>
<line x1="130.52" y1="345.3" x2="130.52" y2="346.8" stroke="#333" stroke-width="0.5"/>
<line x1="131.26" y1="345.3" x2="131.26" y2="346.8" stroke="#333" stroke-width="0.5"/>
<line x1="131.91" y1="345.3" x2="131.91" y2="346.8" stroke="#333" stroke-width="0.5"/>
<text x="116" y="357.7" font-size="6.3" text-anchor="start" fill="#333" font-weight="normal" font-style="normal" letter-spacing="0.35" stroke="#333" stroke-width="0.22">10</text>
<text x="123.7" y="354.6" font-size="3.9" text-anchor="start" fill="#333" font-weight="normal" font-style="normal" stroke="#333" stroke-width="0.22">1</text>
<line x1="132.5" y1="345.3" x2="132.5" y2="348.1" stroke="#222" stroke-width="0.8"/>
<line x1="136.35" y1="345.3" x2="136.35" y2="346.8" stroke="#333" stroke-width="0.5"/>
<line x1="138.61" y1="345.3" x2="138.61" y2="346.8" stroke="#333" stroke-width="0.5"/>
<line x1="140.21" y1="345.3" x2="140.21" y2="346.8" stroke="#333" stroke-width="0.5"/>
<line x1="141.45" y1="345.3" x2="141.45" y2="346.8" stroke="#333" stroke-width="0.5"/>
<line x1="142.46" y1="345.3" x2="142.46" y2="346.8" stroke="#333" stroke-width="0.5"/>
<line x1="143.32" y1="345.3" x2="143.32" y2="346.8" stroke="#333" stroke-width="0.5"/>
<line x1="144.06" y1="345.3" x2="144.06" y2="346.8" stroke="#333" stroke-width="0.5"/>
<line x1="144.71" y1="345.3" x2="144.71" y2="346.8" stroke="#333" stroke-width="0.5"/>
<text x="128.8" y="357.7" font-size="6.3" text-anchor="start" fill="#333" font-weight="normal" font-style="normal" letter-spacing="0.35" stroke="#333" stroke-width="0.22">10</text>
<text x="136.5" y="354.6" font-size="3.9" text-anchor="start" fill="#333" font-weight="normal" font-style="normal" stroke="#333" stroke-width="0.22">2</text>
<line x1="145.3" y1="345.3" x2="145.3" y2="348.1" stroke="#222" stroke-width="0.8"/>
<line x1="149.15" y1="345.3" x2="149.15" y2="346.8" stroke="#333" stroke-width="0.5"/>
<line x1="151.41" y1="345.3" x2="151.41" y2="346.8" stroke="#333" stroke-width="0.5"/>
<line x1="153.01" y1="345.3" x2="153.01" y2="346.8" stroke="#333" stroke-width="0.5"/>
<line x1="154.25" y1="345.3" x2="154.25" y2="346.8" stroke="#333" stroke-width="0.5"/>
<line x1="155.26" y1="345.3" x2="155.26" y2="346.8" stroke="#333" stroke-width="0.5"/>
<line x1="156.12" y1="345.3" x2="156.12" y2="346.8" stroke="#333" stroke-width="0.5"/>
<line x1="156.86" y1="345.3" x2="156.86" y2="346.8" stroke="#333" stroke-width="0.5"/>
<line x1="157.51" y1="345.3" x2="157.51" y2="346.8" stroke="#333" stroke-width="0.5"/>
<text x="141.6" y="357.7" font-size="6.3" text-anchor="start" fill="#333" font-weight="normal" font-style="normal" letter-spacing="0.35" stroke="#333" stroke-width="0.22">10</text>
<text x="149.3" y="354.6" font-size="3.9" text-anchor="start" fill="#333" font-weight="normal" font-style="normal" stroke="#333" stroke-width="0.22">3</text>
<line x1="158.1" y1="345.3" x2="158.1" y2="348.1" stroke="#222" stroke-width="0.8"/>
<line x1="161.95" y1="345.3" x2="161.95" y2="346.8" stroke="#333" stroke-width="0.5"/>
<line x1="164.21" y1="345.3" x2="164.21" y2="346.8" stroke="#333" stroke-width="0.5"/>
<line x1="165.81" y1="345.3" x2="165.81" y2="346.8" stroke="#333" stroke-width="0.5"/>
<line x1="167.05" y1="345.3" x2="167.05" y2="346.8" stroke="#333" stroke-width="0.5"/>
<line x1="168.06" y1="345.3" x2="168.06" y2="346.8" stroke="#333" stroke-width="0.5"/>
<line x1="168.92" y1="345.3" x2="168.92" y2="346.8" stroke="#333" stroke-width="0.5"/>
<line x1="169.66" y1="345.3" x2="169.66" y2="346.8" stroke="#333" stroke-width="0.5"/>
<line x1="170.31" y1="345.3" x2="170.31" y2="346.8" stroke="#333" stroke-width="0.5"/>
<text x="154.4" y="357.7" font-size="6.3" text-anchor="start" fill="#333" font-weight="normal" font-style="normal" letter-spacing="0.35" stroke="#333" stroke-width="0.22">10</text>
<text x="162.1" y="354.6" font-size="3.9" text-anchor="start" fill="#333" font-weight="normal" font-style="normal" stroke="#333" stroke-width="0.22">4</text>
<line x1="170.9" y1="345.3" x2="170.9" y2="348.1" stroke="#222" stroke-width="0.8"/>
<text x="167.2" y="357.7" font-size="6.3" text-anchor="start" fill="#333" font-weight="normal" font-style="normal" letter-spacing="0.35" stroke="#333" stroke-width="0.22">10</text>
<text x="174.9" y="354.6" font-size="3.9" text-anchor="start" fill="#333" font-weight="normal" font-style="normal" stroke="#333" stroke-width="0.22">5</text>
<rect x="115.8" y="284.5" width="61" height="60.8" fill="none" stroke="#1a1a1a" stroke-width="1.2"/>
<path d="M116.8 345.3 L117.1 345.3 L117.4 345.3 L117.7 345.3 L118 345.3 L118.3 345.3 L118.6 345.3 L118.9 345.3 L119.2 345.3 L119.5 345.3 L119.8 345.3 L120.1 345.3 L120.4 345.3 L120.7 345.3 L121 345.3 L121.3 345.3 L121.6 345.3 L121.9 345.3 L122.2 345.3 L122.5 345.3 L122.8 345.3 L123.1 345.3 L123.4 345.3 L123.7 345.3 L124 345.3 L124.3 345.3 L124.6 345.3 L124.9 345.3 L125.2 345.3 L125.5 345.3 L125.8 345.3 L126.1 345.3 L126.4 345.3 L126.7 345.3 L127 345.3 L127.3 345.29 L127.6 345.29 L127.9 345.29 L128.2 345.29 L128.5 345.29 L128.8 345.28 L129.1 345.28 L129.4 345.27 L129.7 345.27 L130 345.26 L130.3 345.25 L130.6 345.24 L130.9 345.22 L131.2 345.21 L131.5 345.18 L131.8 345.16 L132.1 345.13 L132.4 345.09 L132.7 345.04 L133 344.98 L133.3 344.92 L133.6 344.84 L133.9 344.74 L134.2 344.62 L134.5 344.48 L134.8 344.32 L135.1 344.13 L135.4 343.9 L135.7 343.63 L136 343.32 L136.3 342.95 L136.6 342.52 L136.9 342.03 L137.2 341.45 L137.5 340.79 L137.8 340.04 L138.1 339.17 L138.4 338.18 L138.7 337.06 L139 335.8 L139.3 334.37 L139.6 332.78 L139.9 331.01 L140.2 329.05 L140.5 326.9 L140.8 324.54 L141.1 321.97 L141.4 319.21 L141.7 316.25 L142 313.12 L142.3 309.83 L142.6 306.42 L142.9 302.94 L143.2 299.46 L143.5 296.04 L143.8 292.81 L144.1 289.93 L144.4 287.66 L144.7 287.2 L145 289.59 L145.3 292.87 L145.6 296.6 L145.9 300.56 L146.2 304.57 L146.5 308.54 L146.8 312.36 L147.1 316 L147.4 319.4 L147.7 322.55 L148 325.43 L148.3 328.04 L148.6 330.38 L148.9 332.47 L149.2 334.32 L149.5 335.95 L149.8 337.37 L150.1 338.61 L150.4 339.67 L150.7 340.59 L151 341.37 L151.3 342.04 L151.6 342.6 L151.9 343.07 L152.2 343.47 L152.5 343.8 L152.8 344.08 L153.1 344.31 L153.4 344.49 L153.7 344.65 L154 344.78 L154.3 344.88 L154.6 344.96 L154.9 345.03 L155.2 345.09 L155.5 345.13 L155.8 345.17 L156.1 345.19 L156.4 345.22 L156.7 345.23 L157 345.25 L157.3 345.26 L157.6 345.27 L157.9 345.28 L158.2 345.28 L158.5 345.29 L158.8 345.29 L159.1 345.29 L159.4 345.29 L159.7 345.3 L160 345.3 L160.3 345.3 L160.6 345.3 L160.9 345.3 L161.2 345.3 L161.5 345.3 L161.8 345.3 L162.1 345.3 L162.4 345.3 L162.7 345.3 L163 345.3 L163.3 345.3 L163.6 345.3 L163.9 345.3 L164.2 345.3 L164.5 345.3 L164.8 345.3 L165.1 345.3 L165.4 345.3 L165.7 345.3 L166 345.3 L166.3 345.3 L166.6 345.3 L166.9 345.3 L167.2 345.3 L167.5 345.3 L167.8 345.3 L168.1 345.3 L168.4 345.3 L168.7 345.3 L169 345.3 L169.3 345.3 L169.6 345.3 L169.9 345.3 L170.2 345.3 L170.5 345.3 L170.8 345.3 L171.1 345.3 L171.4 345.3 L171.7 345.3 L172 345.3 L172.3 345.3 L172.6 345.3 L172.9 345.3 L173.2 345.3 L173.5 345.3 L173.8 345.3 L174.1 345.3 L174.4 345.3 L174.7 345.3 L175 345.3 L175.3 345.3 L175.6 345.3 L175.9 345.3 L176.2 345.3 L176.5 345.3" fill="none" stroke="#24496f" stroke-width="0.9" stroke-linejoin="round"/>
<path d="M116.8 345.3 L117.1 345.3 L117.4 345.3 L117.7 345.3 L118 345.3 L118.3 345.3 L118.6 345.3 L118.9 345.3 L119.2 345.3 L119.5 345.3 L119.8 345.3 L120.1 345.3 L120.4 345.3 L120.7 345.3 L121 345.3 L121.3 345.3 L121.6 345.3 L121.9 345.3 L122.2 345.3 L122.5 345.3 L122.8 345.3 L123.1 345.3 L123.4 345.3 L123.7 345.3 L124 345.3 L124.3 345.3 L124.6 345.3 L124.9 345.3 L125.2 345.3 L125.5 345.3 L125.8 345.3 L126.1 345.3 L126.4 345.3 L126.7 345.3 L127 345.3 L127.3 345.3 L127.6 345.3 L127.9 345.3 L128.2 345.3 L128.5 345.3 L128.8 345.3 L129.1 345.3 L129.4 345.3 L129.7 345.3 L130 345.3 L130.3 345.3 L130.6 345.3 L130.9 345.3 L131.2 345.3 L131.5 345.3 L131.8 345.3 L132.1 345.3 L132.4 345.3 L132.7 345.3 L133 345.3 L133.3 345.3 L133.6 345.3 L133.9 345.3 L134.2 345.3 L134.5 345.3 L134.8 345.3 L135.1 345.3 L135.4 345.3 L135.7 345.3 L136 345.3 L136.3 345.3 L136.6 345.3 L136.9 345.3 L137.2 345.3 L137.5 345.3 L137.8 345.3 L138.1 345.3 L138.4 345.3 L138.7 345.3 L139 345.3 L139.3 345.3 L139.6 345.3 L139.9 345.3 L140.2 345.3 L140.5 345.3 L140.8 345.3 L141.1 345.3 L141.4 345.3 L141.7 345.3 L142 345.3 L142.3 345.3 L142.6 345.3 L142.9 345.3 L143.2 345.3 L143.5 345.3 L143.8 345.3 L144.1 345.3 L144.4 345.3 L144.7 345.3 L145 345.3 L145.3 345.3 L145.6 345.3 L145.9 345.3 L146.2 345.3 L146.5 345.3 L146.8 345.3 L147.1 345.3 L147.4 345.3 L147.7 345.3 L148 345.3 L148.3 345.3 L148.6 345.3 L148.9 345.3 L149.2 345.3 L149.5 345.3 L149.8 345.3 L150.1 345.3 L150.4 345.3 L150.7 345.3 L151 345.3 L151.3 345.3 L151.6 345.3 L151.9 345.3 L152.2 345.29 L152.5 345.29 L152.8 345.28 L153.1 345.27 L153.4 345.25 L153.7 345.22 L154 345.18 L154.3 345.11 L154.6 345.02 L154.9 344.91 L155.2 344.76 L155.5 344.58 L155.8 344.37 L156.1 344.15 L156.4 343.93 L156.7 343.72 L157 343.54 L157.3 343.4 L157.6 343.3 L157.9 343.25 L158.2 343.22 L158.5 343.21 L158.8 343.18 L159.1 343.12 L159.4 343 L159.7 342.8 L160 342.49 L160.3 342.06 L160.6 341.51 L160.9 340.8 L161.2 339.94 L161.5 338.92 L161.8 337.71 L162.1 336.31 L162.4 334.7 L162.7 332.88 L163 330.83 L163.3 328.54 L163.6 326.03 L163.9 323.28 L164.2 320.33 L164.5 317.18 L164.8 313.88 L165.1 310.47 L165.4 307.02 L165.7 303.61 L166 300.32 L166.3 297.3 L166.6 294.68 L166.9 292.66 L167.2 291.64 L167.5 292.66 L167.8 294.68 L168.1 297.3 L168.4 300.32 L168.7 303.61 L169 307.02 L169.3 310.47 L169.6 313.88 L169.9 317.18 L170.2 320.33 L170.5 323.28 L170.8 326.03 L171.1 328.54 L171.4 330.83 L171.7 332.88 L172 334.71 L172.3 336.32 L172.6 337.73 L172.9 338.96 L173.2 340.02 L173.5 340.93 L173.8 341.7 L174.1 342.35 L174.4 342.89 L174.7 343.35 L175 343.72 L175.3 344.04 L175.6 344.29 L175.9 344.5 L176.2 344.66 L176.5 344.8" fill="none" stroke="#c22a4c" stroke-width="0.9" stroke-linejoin="round"/>
<rect x="115.8" y="284.5" width="61" height="60.8" fill="none" stroke="#1a1a1a" stroke-width="1.2"/>
<text x="145.8" y="279.9" font-size="7.5" text-anchor="middle" fill="#222" stroke="#222" stroke-width="0.16">MV4;11 <tspan font-style="italic">FOLR1+</tspan></text>
<line x1="29.2" y1="366.2" x2="171.7" y2="366.2" stroke="#111" stroke-width="1.2"/>
<path d="M170.7 364.1 L176.2 366.2 L170.7 368.3 Z" fill="#111" stroke="none" stroke-width="1"/>
<text x="0" y="0" font-size="7.2" text-anchor="middle" fill="#222" font-weight="bold" font-style="normal" transform="translate(103.4,376.1) scale(0.66,1)" letter-spacing="0.8">FOLR1 (MFI = 63.5)</text>
<text x="196.8" y="273.8" font-size="11" text-anchor="start" fill="#111" font-weight="bold" font-style="normal" stroke="#111" stroke-width="0.55">D</text>
<line x1="244.2" y1="345.3" x2="247.4" y2="345.3" stroke="#222" stroke-width="0.9"/>
<text x="241" y="347.6" font-size="6.4" text-anchor="end" fill="#333" font-weight="normal" font-style="normal" stroke="#333" stroke-width="0.22">0</text>
<line x1="244.2" y1="333.52" x2="247.4" y2="333.52" stroke="#222" stroke-width="0.9"/>
<text x="241" y="335.82" font-size="6.4" text-anchor="end" fill="#333" font-weight="normal" font-style="normal" stroke="#333" stroke-width="0.22">20</text>
<line x1="244.2" y1="321.74" x2="247.4" y2="321.74" stroke="#222" stroke-width="0.9"/>
<text x="241" y="324.04" font-size="6.4" text-anchor="end" fill="#333" font-weight="normal" font-style="normal" stroke="#333" stroke-width="0.22">40</text>
<line x1="244.2" y1="309.96" x2="247.4" y2="309.96" stroke="#222" stroke-width="0.9"/>
<text x="241" y="312.26" font-size="6.4" text-anchor="end" fill="#333" font-weight="normal" font-style="normal" stroke="#333" stroke-width="0.22">60</text>
<line x1="244.2" y1="298.18" x2="247.4" y2="298.18" stroke="#222" stroke-width="0.9"/>
<text x="241" y="300.48" font-size="6.4" text-anchor="end" fill="#333" font-weight="normal" font-style="normal" stroke="#333" stroke-width="0.22">80</text>
<line x1="244.2" y1="286.4" x2="247.4" y2="286.4" stroke="#222" stroke-width="0.9"/>
<text x="241" y="288.7" font-size="6.4" text-anchor="end" fill="#333" font-weight="normal" font-style="normal" stroke="#333" stroke-width="0.22">100</text>
<line x1="245.5" y1="345.3" x2="247.4" y2="345.3" stroke="#333" stroke-width="0.75"/>
<line x1="245.5" y1="342.94" x2="247.4" y2="342.94" stroke="#333" stroke-width="0.75"/>
<line x1="245.5" y1="340.59" x2="247.4" y2="340.59" stroke="#333" stroke-width="0.75"/>
<line x1="245.5" y1="338.23" x2="247.4" y2="338.23" stroke="#333" stroke-width="0.75"/>
<line x1="245.5" y1="335.88" x2="247.4" y2="335.88" stroke="#333" stroke-width="0.75"/>
<line x1="245.5" y1="333.52" x2="247.4" y2="333.52" stroke="#333" stroke-width="0.75"/>
<line x1="245.5" y1="331.16" x2="247.4" y2="331.16" stroke="#333" stroke-width="0.75"/>
<line x1="245.5" y1="328.81" x2="247.4" y2="328.81" stroke="#333" stroke-width="0.75"/>
<line x1="245.5" y1="326.45" x2="247.4" y2="326.45" stroke="#333" stroke-width="0.75"/>
<line x1="245.5" y1="324.1" x2="247.4" y2="324.1" stroke="#333" stroke-width="0.75"/>
<line x1="245.5" y1="321.74" x2="247.4" y2="321.74" stroke="#333" stroke-width="0.75"/>
<line x1="245.5" y1="319.38" x2="247.4" y2="319.38" stroke="#333" stroke-width="0.75"/>
<line x1="245.5" y1="317.03" x2="247.4" y2="317.03" stroke="#333" stroke-width="0.75"/>
<line x1="245.5" y1="314.67" x2="247.4" y2="314.67" stroke="#333" stroke-width="0.75"/>
<line x1="245.5" y1="312.32" x2="247.4" y2="312.32" stroke="#333" stroke-width="0.75"/>
<line x1="245.5" y1="309.96" x2="247.4" y2="309.96" stroke="#333" stroke-width="0.75"/>
<line x1="245.5" y1="307.6" x2="247.4" y2="307.6" stroke="#333" stroke-width="0.75"/>
<line x1="245.5" y1="305.25" x2="247.4" y2="305.25" stroke="#333" stroke-width="0.75"/>
<line x1="245.5" y1="302.89" x2="247.4" y2="302.89" stroke="#333" stroke-width="0.75"/>
<line x1="245.5" y1="300.54" x2="247.4" y2="300.54" stroke="#333" stroke-width="0.75"/>
<line x1="245.5" y1="298.18" x2="247.4" y2="298.18" stroke="#333" stroke-width="0.75"/>
<line x1="245.5" y1="295.82" x2="247.4" y2="295.82" stroke="#333" stroke-width="0.75"/>
<line x1="245.5" y1="293.47" x2="247.4" y2="293.47" stroke="#333" stroke-width="0.75"/>
<line x1="245.5" y1="291.11" x2="247.4" y2="291.11" stroke="#333" stroke-width="0.75"/>
<line x1="245.5" y1="288.76" x2="247.4" y2="288.76" stroke="#333" stroke-width="0.75"/>
<line x1="245.5" y1="286.4" x2="247.4" y2="286.4" stroke="#333" stroke-width="0.75"/>
<line x1="253.4" y1="345.3" x2="253.4" y2="348.1" stroke="#222" stroke-width="0.8"/>
<line x1="257.13" y1="345.3" x2="257.13" y2="346.8" stroke="#333" stroke-width="0.5"/>
<line x1="259.32" y1="345.3" x2="259.32" y2="346.8" stroke="#333" stroke-width="0.5"/>
<line x1="260.87" y1="345.3" x2="260.87" y2="346.8" stroke="#333" stroke-width="0.5"/>
<line x1="262.07" y1="345.3" x2="262.07" y2="346.8" stroke="#333" stroke-width="0.5"/>
<line x1="263.05" y1="345.3" x2="263.05" y2="346.8" stroke="#333" stroke-width="0.5"/>
<line x1="263.88" y1="345.3" x2="263.88" y2="346.8" stroke="#333" stroke-width="0.5"/>
<line x1="264.6" y1="345.3" x2="264.6" y2="346.8" stroke="#333" stroke-width="0.5"/>
<line x1="265.23" y1="345.3" x2="265.23" y2="346.8" stroke="#333" stroke-width="0.5"/>
<text x="249.7" y="357.7" font-size="6.3" text-anchor="start" fill="#333" font-weight="normal" font-style="normal" letter-spacing="0.35" stroke="#333" stroke-width="0.22">10</text>
<text x="257.4" y="354.6" font-size="3.9" text-anchor="start" fill="#333" font-weight="normal" font-style="normal" stroke="#333" stroke-width="0.22">1</text>
<line x1="265.8" y1="345.3" x2="265.8" y2="348.1" stroke="#222" stroke-width="0.8"/>
<line x1="269.53" y1="345.3" x2="269.53" y2="346.8" stroke="#333" stroke-width="0.5"/>
<line x1="271.72" y1="345.3" x2="271.72" y2="346.8" stroke="#333" stroke-width="0.5"/>
<line x1="273.27" y1="345.3" x2="273.27" y2="346.8" stroke="#333" stroke-width="0.5"/>
<line x1="274.47" y1="345.3" x2="274.47" y2="346.8" stroke="#333" stroke-width="0.5"/>
<line x1="275.45" y1="345.3" x2="275.45" y2="346.8" stroke="#333" stroke-width="0.5"/>
<line x1="276.28" y1="345.3" x2="276.28" y2="346.8" stroke="#333" stroke-width="0.5"/>
<line x1="277" y1="345.3" x2="277" y2="346.8" stroke="#333" stroke-width="0.5"/>
<line x1="277.63" y1="345.3" x2="277.63" y2="346.8" stroke="#333" stroke-width="0.5"/>
<text x="262.1" y="357.7" font-size="6.3" text-anchor="start" fill="#333" font-weight="normal" font-style="normal" letter-spacing="0.35" stroke="#333" stroke-width="0.22">10</text>
<text x="269.8" y="354.6" font-size="3.9" text-anchor="start" fill="#333" font-weight="normal" font-style="normal" stroke="#333" stroke-width="0.22">2</text>
<line x1="278.2" y1="345.3" x2="278.2" y2="348.1" stroke="#222" stroke-width="0.8"/>
<line x1="281.9" y1="345.3" x2="281.9" y2="346.8" stroke="#333" stroke-width="0.5"/>
<line x1="284.07" y1="345.3" x2="284.07" y2="346.8" stroke="#333" stroke-width="0.5"/>
<line x1="285.61" y1="345.3" x2="285.61" y2="346.8" stroke="#333" stroke-width="0.5"/>
<line x1="286.8" y1="345.3" x2="286.8" y2="346.8" stroke="#333" stroke-width="0.5"/>
<line x1="287.77" y1="345.3" x2="287.77" y2="346.8" stroke="#333" stroke-width="0.5"/>
<line x1="288.59" y1="345.3" x2="288.59" y2="346.8" stroke="#333" stroke-width="0.5"/>
<line x1="289.31" y1="345.3" x2="289.31" y2="346.8" stroke="#333" stroke-width="0.5"/>
<line x1="289.94" y1="345.3" x2="289.94" y2="346.8" stroke="#333" stroke-width="0.5"/>
<text x="274.5" y="357.7" font-size="6.3" text-anchor="start" fill="#333" font-weight="normal" font-style="normal" letter-spacing="0.35" stroke="#333" stroke-width="0.22">10</text>
<text x="282.2" y="354.6" font-size="3.9" text-anchor="start" fill="#333" font-weight="normal" font-style="normal" stroke="#333" stroke-width="0.22">3</text>
<line x1="290.5" y1="345.3" x2="290.5" y2="348.1" stroke="#222" stroke-width="0.8"/>
<line x1="294.23" y1="345.3" x2="294.23" y2="346.8" stroke="#333" stroke-width="0.5"/>
<line x1="296.42" y1="345.3" x2="296.42" y2="346.8" stroke="#333" stroke-width="0.5"/>
<line x1="297.97" y1="345.3" x2="297.97" y2="346.8" stroke="#333" stroke-width="0.5"/>
<line x1="299.17" y1="345.3" x2="299.17" y2="346.8" stroke="#333" stroke-width="0.5"/>
<line x1="300.15" y1="345.3" x2="300.15" y2="346.8" stroke="#333" stroke-width="0.5"/>
<line x1="300.98" y1="345.3" x2="300.98" y2="346.8" stroke="#333" stroke-width="0.5"/>
<line x1="301.7" y1="345.3" x2="301.7" y2="346.8" stroke="#333" stroke-width="0.5"/>
<line x1="302.33" y1="345.3" x2="302.33" y2="346.8" stroke="#333" stroke-width="0.5"/>
<text x="286.8" y="357.7" font-size="6.3" text-anchor="start" fill="#333" font-weight="normal" font-style="normal" letter-spacing="0.35" stroke="#333" stroke-width="0.22">10</text>
<text x="294.5" y="354.6" font-size="3.9" text-anchor="start" fill="#333" font-weight="normal" font-style="normal" stroke="#333" stroke-width="0.22">4</text>
<line x1="302.9" y1="345.3" x2="302.9" y2="348.1" stroke="#222" stroke-width="0.8"/>
<text x="299.2" y="357.7" font-size="6.3" text-anchor="start" fill="#333" font-weight="normal" font-style="normal" letter-spacing="0.35" stroke="#333" stroke-width="0.22">10</text>
<text x="306.9" y="354.6" font-size="3.9" text-anchor="start" fill="#333" font-weight="normal" font-style="normal" stroke="#333" stroke-width="0.22">5</text>
<rect x="247.4" y="283.8" width="61.8" height="61.5" fill="none" stroke="#1a1a1a" stroke-width="1.2"/>
<path d="M247.6 344.97 L247.91 344.91 L248.22 344.85 L248.53 344.78 L248.83 344.7 L249.14 344.61 L249.45 344.51 L249.76 344.41 L250.07 344.29 L250.38 344.17 L250.69 344.04 L250.99 343.91 L251.3 343.77 L251.61 343.62 L251.92 343.47 L252.23 343.31 L252.54 343.16 L252.85 343 L253.15 342.84 L253.46 342.69 L253.77 342.53 L254.08 342.39 L254.39 342.24 L254.7 342.1 L255.01 341.97 L255.31 341.83 L255.62 341.71 L255.93 341.58 L256.24 341.45 L256.55 341.32 L256.86 341.19 L257.16 341.05 L257.47 340.9 L257.78 340.73 L258.09 340.54 L258.4 340.32 L258.71 340.08 L259.02 339.79 L259.32 339.47 L259.63 339.09 L259.94 338.67 L260.25 338.18 L260.56 337.62 L260.87 337 L261.18 336.29 L261.48 335.51 L261.79 334.64 L262.1 333.68 L262.41 332.63 L262.72 331.48 L263.03 330.23 L263.34 328.89 L263.64 327.45 L263.95 325.91 L264.26 324.27 L264.57 322.55 L264.88 320.74 L265.19 318.85 L265.5 316.9 L265.8 314.87 L266.11 312.8 L266.42 310.69 L266.73 308.55 L267.04 306.4 L267.35 304.26 L267.66 302.13 L267.96 300.05 L268.27 298.04 L268.58 296.1 L268.89 294.27 L269.2 292.57 L269.51 291.01 L269.82 289.63 L270.12 288.45 L270.43 287.5 L270.74 286.8 L271.05 286.4 L271.36 286.57 L271.67 287.98 L271.97 290.35 L272.28 293.47 L272.59 297.15 L272.9 301.2 L273.21 305.46 L273.52 309.78 L273.83 314.05 L274.13 318.14 L274.44 321.99 L274.75 325.54 L275.06 328.74 L275.37 331.59 L275.68 334.07 L275.99 336.21 L276.29 338.02 L276.6 339.54 L276.91 340.79 L277.22 341.81 L277.53 342.62 L277.84 343.27 L278.15 343.78 L278.45 344.17 L278.76 344.47 L279.07 344.69 L279.38 344.86 L279.69 344.99 L280 345.08 L280.31 345.15 L280.61 345.19 L280.92 345.23 L281.23 345.25 L281.54 345.27 L281.85 345.28 L282.16 345.29 L282.47 345.29 L282.77 345.29 L283.08 345.3 L283.39 345.3 L283.7 345.3 L284.01 345.3 L284.32 345.3 L284.63 345.3 L284.93 345.3 L285.24 345.3 L285.55 345.3 L285.86 345.3 L286.17 345.3 L286.48 345.3 L286.78 345.3 L287.09 345.3 L287.4 345.3 L287.71 345.3 L288.02 345.3 L288.33 345.3 L288.64 345.3 L288.94 345.3 L289.25 345.3 L289.56 345.3 L289.87 345.3 L290.18 345.3 L290.49 345.3 L290.8 345.3 L291.1 345.3 L291.41 345.3 L291.72 345.3 L292.03 345.3 L292.34 345.3 L292.65 345.3 L292.96 345.3 L293.26 345.3 L293.57 345.3 L293.88 345.3 L294.19 345.3 L294.5 345.3 L294.81 345.3 L295.12 345.3 L295.42 345.3 L295.73 345.3 L296.04 345.3 L296.35 345.3 L296.66 345.3 L296.97 345.3 L297.28 345.3 L297.58 345.3 L297.89 345.3 L298.2 345.3 L298.51 345.3 L298.82 345.3 L299.13 345.3 L299.44 345.3 L299.74 345.3 L300.05 345.3 L300.36 345.3 L300.67 345.3 L300.98 345.3 L301.29 345.3 L301.59 345.3 L301.9 345.3 L302.21 345.3 L302.52 345.3 L302.83 345.3 L303.14 345.3 L303.45 345.3 L303.75 345.3 L304.06 345.3 L304.37 345.3 L304.68 345.3 L304.99 345.3 L305.3 345.3 L305.61 345.3 L305.91 345.3 L306.22 345.3 L306.53 345.3 L306.84 345.3 L307.15 345.3 L307.46 345.3 L307.77 345.3 L308.07 345.3 L308.38 345.3 L308.69 345.3 L309 345.3" fill="none" stroke="#24496f" stroke-width="0.9" stroke-linejoin="round"/>
<path d="M247.6 345.3 L247.91 345.3 L248.22 345.3 L248.53 345.3 L248.83 345.3 L249.14 345.3 L249.45 345.3 L249.76 345.3 L250.07 345.3 L250.38 345.3 L250.69 345.3 L250.99 345.3 L251.3 345.3 L251.61 345.3 L251.92 345.3 L252.23 345.3 L252.54 345.3 L252.85 345.3 L253.15 345.3 L253.46 345.3 L253.77 345.3 L254.08 345.3 L254.39 345.3 L254.7 345.3 L255.01 345.3 L255.31 345.3 L255.62 345.3 L255.93 345.3 L256.24 345.3 L256.55 345.3 L256.86 345.3 L257.16 345.3 L257.47 345.3 L257.78 345.3 L258.09 345.3 L258.4 345.3 L258.71 345.3 L259.02 345.3 L259.32 345.3 L259.63 345.29 L259.94 345.29 L260.25 345.29 L260.56 345.29 L260.87 345.28 L261.18 345.27 L261.48 345.27 L261.79 345.26 L262.1 345.24 L262.41 345.23 L262.72 345.21 L263.03 345.18 L263.34 345.15 L263.64 345.11 L263.95 345.07 L264.26 345.02 L264.57 344.96 L264.88 344.89 L265.19 344.82 L265.5 344.74 L265.8 344.65 L266.11 344.55 L266.42 344.45 L266.73 344.34 L267.04 344.23 L267.35 344.12 L267.66 344.01 L267.96 343.9 L268.27 343.8 L268.58 343.71 L268.89 343.63 L269.2 343.57 L269.51 343.51 L269.82 343.48 L270.12 343.45 L270.43 343.44 L270.74 343.45 L271.05 343.47 L271.36 343.49 L271.67 343.53 L271.97 343.57 L272.28 343.62 L272.59 343.67 L272.9 343.71 L273.21 343.75 L273.52 343.78 L273.83 343.8 L274.13 343.81 L274.44 343.8 L274.75 343.77 L275.06 343.73 L275.37 343.67 L275.68 343.59 L275.99 343.48 L276.29 343.36 L276.6 343.21 L276.91 343.05 L277.22 342.86 L277.53 342.64 L277.84 342.41 L278.15 342.14 L278.45 341.86 L278.76 341.55 L279.07 341.21 L279.38 340.84 L279.69 340.45 L280 340.02 L280.31 339.57 L280.61 339.08 L280.92 338.56 L281.23 338.01 L281.54 337.42 L281.85 336.8 L282.16 336.13 L282.47 335.43 L282.77 334.69 L283.08 333.92 L283.39 333.1 L283.7 332.24 L284.01 331.33 L284.32 330.39 L284.63 329.41 L284.93 328.38 L285.24 327.32 L285.55 326.21 L285.86 325.07 L286.17 323.89 L286.48 322.67 L286.78 321.42 L287.09 320.14 L287.4 318.83 L287.71 317.49 L288.02 316.13 L288.33 314.75 L288.64 313.36 L288.94 311.95 L289.25 310.53 L289.56 309.11 L289.87 307.7 L290.18 306.29 L290.49 304.9 L290.8 303.52 L291.1 302.17 L291.41 300.85 L291.72 299.57 L292.03 298.34 L292.34 297.16 L292.65 296.04 L292.96 294.98 L293.26 294 L293.57 293.11 L293.88 292.3 L294.19 291.59 L294.5 290.99 L294.81 290.5 L295.12 290.14 L295.42 289.93 L295.73 289.96 L296.04 290.46 L296.35 291.37 L296.66 292.6 L296.97 294.12 L297.28 295.89 L297.58 297.86 L297.89 300 L298.2 302.27 L298.51 304.63 L298.82 307.06 L299.13 309.51 L299.44 311.97 L299.74 314.41 L300.05 316.81 L300.36 319.13 L300.67 321.38 L300.98 323.53 L301.29 325.58 L301.59 327.51 L301.9 329.32 L302.21 331.01 L302.52 332.57 L302.83 334.01 L303.14 335.33 L303.45 336.54 L303.75 337.62 L304.06 338.6 L304.37 339.48 L304.68 340.27 L304.99 340.96 L305.3 341.58 L305.61 342.12 L305.91 342.59 L306.22 343 L306.53 343.36 L306.84 343.66 L307.15 343.93 L307.46 344.15 L307.77 344.35 L308.07 344.51 L308.38 344.65 L308.69 344.76 L309 344.86" fill="none" stroke="#c22a4c" stroke-width="0.9" stroke-linejoin="round"/>
<rect x="247.4" y="283.8" width="61.8" height="61.5" fill="none" stroke="#1a1a1a" stroke-width="1.2"/>
<text x="277" y="269.3" font-size="7.3" text-anchor="middle" fill="#222" font-weight="normal" font-style="normal" stroke="#222" stroke-width="0.22">CBF/GLIS-</text>
<text x="277" y="279.3" font-size="7.3" text-anchor="middle" fill="#222" font-weight="normal" font-style="normal" stroke="#222" stroke-width="0.22">transduced CB</text>
<line x1="247.6" y1="366.1" x2="304.1" y2="366.1" stroke="#111" stroke-width="1.2"/>
<path d="M303.1 364 L308.6 366.1 L303.1 368.2 Z" fill="#111" stroke="none" stroke-width="1"/>
<text x="0" y="0" font-size="7.2" text-anchor="middle" fill="#222" font-weight="bold" font-style="normal" transform="translate(278.9,375.6) scale(0.65,1)" letter-spacing="0.8">FOLR1 (MFI = 103.5)</text>
<text x="359.6" y="273.8" font-size="11" text-anchor="start" fill="#111" font-weight="bold" font-style="normal" stroke="#111" stroke-width="0.55">F</text>
<line x1="377.1" y1="345.2" x2="380.3" y2="345.2" stroke="#222" stroke-width="0.9"/>
<text x="373.9" y="347.5" font-size="6.4" text-anchor="end" fill="#333" font-weight="normal" font-style="normal" stroke="#333" stroke-width="0.22">0</text>
<line x1="377.1" y1="333.24" x2="380.3" y2="333.24" stroke="#222" stroke-width="0.9"/>
<text x="373.9" y="335.54" font-size="6.4" text-anchor="end" fill="#333" font-weight="normal" font-style="normal" stroke="#333" stroke-width="0.22">20</text>
<line x1="377.1" y1="321.28" x2="380.3" y2="321.28" stroke="#222" stroke-width="0.9"/>
<text x="373.9" y="323.58" font-size="6.4" text-anchor="end" fill="#333" font-weight="normal" font-style="normal" stroke="#333" stroke-width="0.22">40</text>
<line x1="377.1" y1="309.32" x2="380.3" y2="309.32" stroke="#222" stroke-width="0.9"/>
<text x="373.9" y="311.62" font-size="6.4" text-anchor="end" fill="#333" font-weight="normal" font-style="normal" stroke="#333" stroke-width="0.22">60</text>
<line x1="377.1" y1="297.36" x2="380.3" y2="297.36" stroke="#222" stroke-width="0.9"/>
<text x="373.9" y="299.66" font-size="6.4" text-anchor="end" fill="#333" font-weight="normal" font-style="normal" stroke="#333" stroke-width="0.22">80</text>
<line x1="377.1" y1="285.4" x2="380.3" y2="285.4" stroke="#222" stroke-width="0.9"/>
<text x="373.9" y="287.7" font-size="6.4" text-anchor="end" fill="#333" font-weight="normal" font-style="normal" stroke="#333" stroke-width="0.22">100</text>
<line x1="378.4" y1="345.2" x2="380.3" y2="345.2" stroke="#333" stroke-width="0.75"/>
<line x1="378.4" y1="342.81" x2="380.3" y2="342.81" stroke="#333" stroke-width="0.75"/>
<line x1="378.4" y1="340.42" x2="380.3" y2="340.42" stroke="#333" stroke-width="0.75"/>
<line x1="378.4" y1="338.02" x2="380.3" y2="338.02" stroke="#333" stroke-width="0.75"/>
<line x1="378.4" y1="335.63" x2="380.3" y2="335.63" stroke="#333" stroke-width="0.75"/>
<line x1="378.4" y1="333.24" x2="380.3" y2="333.24" stroke="#333" stroke-width="0.75"/>
<line x1="378.4" y1="330.85" x2="380.3" y2="330.85" stroke="#333" stroke-width="0.75"/>
<line x1="378.4" y1="328.46" x2="380.3" y2="328.46" stroke="#333" stroke-width="0.75"/>
<line x1="378.4" y1="326.06" x2="380.3" y2="326.06" stroke="#333" stroke-width="0.75"/>
<line x1="378.4" y1="323.67" x2="380.3" y2="323.67" stroke="#333" stroke-width="0.75"/>
<line x1="378.4" y1="321.28" x2="380.3" y2="321.28" stroke="#333" stroke-width="0.75"/>
<line x1="378.4" y1="318.89" x2="380.3" y2="318.89" stroke="#333" stroke-width="0.75"/>
<line x1="378.4" y1="316.5" x2="380.3" y2="316.5" stroke="#333" stroke-width="0.75"/>
<line x1="378.4" y1="314.1" x2="380.3" y2="314.1" stroke="#333" stroke-width="0.75"/>
<line x1="378.4" y1="311.71" x2="380.3" y2="311.71" stroke="#333" stroke-width="0.75"/>
<line x1="378.4" y1="309.32" x2="380.3" y2="309.32" stroke="#333" stroke-width="0.75"/>
<line x1="378.4" y1="306.93" x2="380.3" y2="306.93" stroke="#333" stroke-width="0.75"/>
<line x1="378.4" y1="304.54" x2="380.3" y2="304.54" stroke="#333" stroke-width="0.75"/>
<line x1="378.4" y1="302.14" x2="380.3" y2="302.14" stroke="#333" stroke-width="0.75"/>
<line x1="378.4" y1="299.75" x2="380.3" y2="299.75" stroke="#333" stroke-width="0.75"/>
<line x1="378.4" y1="297.36" x2="380.3" y2="297.36" stroke="#333" stroke-width="0.75"/>
<line x1="378.4" y1="294.97" x2="380.3" y2="294.97" stroke="#333" stroke-width="0.75"/>
<line x1="378.4" y1="292.58" x2="380.3" y2="292.58" stroke="#333" stroke-width="0.75"/>
<line x1="378.4" y1="290.18" x2="380.3" y2="290.18" stroke="#333" stroke-width="0.75"/>
<line x1="378.4" y1="287.79" x2="380.3" y2="287.79" stroke="#333" stroke-width="0.75"/>
<line x1="378.4" y1="285.4" x2="380.3" y2="285.4" stroke="#333" stroke-width="0.75"/>
<line x1="386.3" y1="345.2" x2="386.3" y2="348" stroke="#222" stroke-width="0.8"/>
<line x1="390.12" y1="345.2" x2="390.12" y2="346.7" stroke="#333" stroke-width="0.5"/>
<line x1="392.36" y1="345.2" x2="392.36" y2="346.7" stroke="#333" stroke-width="0.5"/>
<line x1="393.95" y1="345.2" x2="393.95" y2="346.7" stroke="#333" stroke-width="0.5"/>
<line x1="395.18" y1="345.2" x2="395.18" y2="346.7" stroke="#333" stroke-width="0.5"/>
<line x1="396.18" y1="345.2" x2="396.18" y2="346.7" stroke="#333" stroke-width="0.5"/>
<line x1="397.03" y1="345.2" x2="397.03" y2="346.7" stroke="#333" stroke-width="0.5"/>
<line x1="397.77" y1="345.2" x2="397.77" y2="346.7" stroke="#333" stroke-width="0.5"/>
<line x1="398.42" y1="345.2" x2="398.42" y2="346.7" stroke="#333" stroke-width="0.5"/>
<text x="382.6" y="357.6" font-size="6.3" text-anchor="start" fill="#333" font-weight="normal" font-style="normal" letter-spacing="0.35" stroke="#333" stroke-width="0.22">10</text>
<text x="390.3" y="354.5" font-size="3.9" text-anchor="start" fill="#333" font-weight="normal" font-style="normal" stroke="#333" stroke-width="0.22">1</text>
<line x1="399" y1="345.2" x2="399" y2="348" stroke="#222" stroke-width="0.8"/>
<line x1="402.73" y1="345.2" x2="402.73" y2="346.7" stroke="#333" stroke-width="0.5"/>
<line x1="404.92" y1="345.2" x2="404.92" y2="346.7" stroke="#333" stroke-width="0.5"/>
<line x1="406.47" y1="345.2" x2="406.47" y2="346.7" stroke="#333" stroke-width="0.5"/>
<line x1="407.67" y1="345.2" x2="407.67" y2="346.7" stroke="#333" stroke-width="0.5"/>
<line x1="408.65" y1="345.2" x2="408.65" y2="346.7" stroke="#333" stroke-width="0.5"/>
<line x1="409.48" y1="345.2" x2="409.48" y2="346.7" stroke="#333" stroke-width="0.5"/>
<line x1="410.2" y1="345.2" x2="410.2" y2="346.7" stroke="#333" stroke-width="0.5"/>
<line x1="410.83" y1="345.2" x2="410.83" y2="346.7" stroke="#333" stroke-width="0.5"/>
<text x="395.3" y="357.6" font-size="6.3" text-anchor="start" fill="#333" font-weight="normal" font-style="normal" letter-spacing="0.35" stroke="#333" stroke-width="0.22">10</text>
<text x="403" y="354.5" font-size="3.9" text-anchor="start" fill="#333" font-weight="normal" font-style="normal" stroke="#333" stroke-width="0.22">2</text>
<line x1="411.4" y1="345.2" x2="411.4" y2="348" stroke="#222" stroke-width="0.8"/>
<line x1="415.07" y1="345.2" x2="415.07" y2="346.7" stroke="#333" stroke-width="0.5"/>
<line x1="417.22" y1="345.2" x2="417.22" y2="346.7" stroke="#333" stroke-width="0.5"/>
<line x1="418.75" y1="345.2" x2="418.75" y2="346.7" stroke="#333" stroke-width="0.5"/>
<line x1="419.93" y1="345.2" x2="419.93" y2="346.7" stroke="#333" stroke-width="0.5"/>
<line x1="420.89" y1="345.2" x2="420.89" y2="346.7" stroke="#333" stroke-width="0.5"/>
<line x1="421.71" y1="345.2" x2="421.71" y2="346.7" stroke="#333" stroke-width="0.5"/>
<line x1="422.42" y1="345.2" x2="422.42" y2="346.7" stroke="#333" stroke-width="0.5"/>
<line x1="423.04" y1="345.2" x2="423.04" y2="346.7" stroke="#333" stroke-width="0.5"/>
<text x="407.7" y="357.6" font-size="6.3" text-anchor="start" fill="#333" font-weight="normal" font-style="normal" letter-spacing="0.35" stroke="#333" stroke-width="0.22">10</text>
<text x="415.4" y="354.5" font-size="3.9" text-anchor="start" fill="#333" font-weight="normal" font-style="normal" stroke="#333" stroke-width="0.22">3</text>
<line x1="423.6" y1="345.2" x2="423.6" y2="348" stroke="#222" stroke-width="0.8"/>
<line x1="427.45" y1="345.2" x2="427.45" y2="346.7" stroke="#333" stroke-width="0.5"/>
<line x1="429.71" y1="345.2" x2="429.71" y2="346.7" stroke="#333" stroke-width="0.5"/>
<line x1="431.31" y1="345.2" x2="431.31" y2="346.7" stroke="#333" stroke-width="0.5"/>
<line x1="432.55" y1="345.2" x2="432.55" y2="346.7" stroke="#333" stroke-width="0.5"/>
<line x1="433.56" y1="345.2" x2="433.56" y2="346.7" stroke="#333" stroke-width="0.5"/>
<line x1="434.42" y1="345.2" x2="434.42" y2="346.7" stroke="#333" stroke-width="0.5"/>
<line x1="435.16" y1="345.2" x2="435.16" y2="346.7" stroke="#333" stroke-width="0.5"/>
<line x1="435.81" y1="345.2" x2="435.81" y2="346.7" stroke="#333" stroke-width="0.5"/>
<text x="419.9" y="357.6" font-size="6.3" text-anchor="start" fill="#333" font-weight="normal" font-style="normal" letter-spacing="0.35" stroke="#333" stroke-width="0.22">10</text>
<text x="427.6" y="354.5" font-size="3.9" text-anchor="start" fill="#333" font-weight="normal" font-style="normal" stroke="#333" stroke-width="0.22">4</text>
<line x1="436.4" y1="345.2" x2="436.4" y2="348" stroke="#222" stroke-width="0.8"/>
<text x="432.7" y="357.6" font-size="6.3" text-anchor="start" fill="#333" font-weight="normal" font-style="normal" letter-spacing="0.35" stroke="#333" stroke-width="0.22">10</text>
<text x="440.4" y="354.5" font-size="3.9" text-anchor="start" fill="#333" font-weight="normal" font-style="normal" stroke="#333" stroke-width="0.22">5</text>
<rect x="380.3" y="282.8" width="62.6" height="62.4" fill="none" stroke="#1a1a1a" stroke-width="1.2"/>
<path d="M380.5 344.83 L380.81 344.77 L381.13 344.7 L381.44 344.62 L381.75 344.53 L382.06 344.43 L382.38 344.31 L382.69 344.19 L383 344.05 L383.31 343.9 L383.63 343.74 L383.94 343.56 L384.25 343.36 L384.56 343.15 L384.88 342.92 L385.19 342.68 L385.5 342.42 L385.81 342.15 L386.13 341.87 L386.44 341.56 L386.75 341.25 L387.06 340.92 L387.38 340.58 L387.69 340.23 L388 339.87 L388.31 339.51 L388.63 339.13 L388.94 338.75 L389.25 338.36 L389.56 337.96 L389.88 337.56 L390.19 337.15 L390.5 336.73 L390.81 336.3 L391.13 335.87 L391.44 335.41 L391.75 334.94 L392.06 334.45 L392.38 333.92 L392.69 333.37 L393 332.77 L393.32 332.13 L393.63 331.43 L393.94 330.67 L394.25 329.84 L394.57 328.93 L394.88 327.94 L395.19 326.85 L395.5 325.66 L395.82 324.37 L396.13 322.96 L396.44 321.44 L396.75 319.81 L397.07 318.07 L397.38 316.22 L397.69 314.27 L398 312.23 L398.32 310.11 L398.63 307.94 L398.94 305.72 L399.25 303.49 L399.57 301.28 L399.88 299.1 L400.19 297 L400.5 295.01 L400.82 293.16 L401.13 291.5 L401.44 290.07 L401.75 288.9 L402.07 288.06 L402.38 287.59 L402.69 287.64 L403 288.49 L403.32 289.97 L403.63 291.96 L403.94 294.35 L404.25 297.08 L404.57 300.04 L404.88 303.18 L405.19 306.42 L405.51 309.69 L405.82 312.94 L406.13 316.11 L406.44 319.17 L406.76 322.08 L407.07 324.81 L407.38 327.35 L407.69 329.68 L408.01 331.8 L408.32 333.71 L408.63 335.42 L408.94 336.93 L409.26 338.25 L409.57 339.4 L409.88 340.39 L410.19 341.24 L410.51 341.96 L410.82 342.56 L411.13 343.07 L411.44 343.49 L411.76 343.84 L412.07 344.12 L412.38 344.35 L412.69 344.53 L413.01 344.68 L413.32 344.8 L413.63 344.89 L413.94 344.96 L414.26 345.02 L414.57 345.06 L414.88 345.1 L415.19 345.12 L415.51 345.14 L415.82 345.16 L416.13 345.17 L416.44 345.18 L416.76 345.18 L417.07 345.19 L417.38 345.19 L417.69 345.19 L418.01 345.2 L418.32 345.2 L418.63 345.2 L418.95 345.2 L419.26 345.2 L419.57 345.2 L419.88 345.2 L420.2 345.2 L420.51 345.2 L420.82 345.2 L421.13 345.2 L421.45 345.2 L421.76 345.2 L422.07 345.2 L422.38 345.2 L422.7 345.2 L423.01 345.2 L423.32 345.2 L423.63 345.2 L423.95 345.2 L424.26 345.2 L424.57 345.2 L424.88 345.2 L425.2 345.2 L425.51 345.2 L425.82 345.2 L426.13 345.2 L426.45 345.2 L426.76 345.2 L427.07 345.2 L427.38 345.2 L427.7 345.2 L428.01 345.2 L428.32 345.2 L428.63 345.2 L428.95 345.2 L429.26 345.2 L429.57 345.2 L429.88 345.2 L430.2 345.2 L430.51 345.2 L430.82 345.2 L431.14 345.2 L431.45 345.2 L431.76 345.2 L432.07 345.2 L432.39 345.2 L432.7 345.2 L433.01 345.2 L433.32 345.2 L433.64 345.2 L433.95 345.2 L434.26 345.2 L434.57 345.2 L434.89 345.2 L435.2 345.2 L435.51 345.2 L435.82 345.2 L436.14 345.2 L436.45 345.2 L436.76 345.2 L437.07 345.2 L437.39 345.2 L437.7 345.2 L438.01 345.2 L438.32 345.2 L438.64 345.2 L438.95 345.2 L439.26 345.2 L439.57 345.2 L439.89 345.2 L440.2 345.2 L440.51 345.2 L440.82 345.2 L441.14 345.2 L441.45 345.2 L441.76 345.2 L442.07 345.2 L442.39 345.2 L442.7 345.2" fill="none" stroke="#24496f" stroke-width="0.9" stroke-linejoin="round"/>
<path d="M380.5 345.2 L380.81 345.2 L381.13 345.2 L381.44 345.2 L381.75 345.2 L382.06 345.2 L382.38 345.2 L382.69 345.2 L383 345.2 L383.31 345.2 L383.63 345.2 L383.94 345.2 L384.25 345.2 L384.56 345.2 L384.88 345.2 L385.19 345.2 L385.5 345.2 L385.81 345.2 L386.13 345.2 L386.44 345.2 L386.75 345.2 L387.06 345.2 L387.38 345.2 L387.69 345.19 L388 345.19 L388.31 345.19 L388.63 345.19 L388.94 345.19 L389.25 345.18 L389.56 345.18 L389.88 345.17 L390.19 345.17 L390.5 345.16 L390.81 345.15 L391.13 345.14 L391.44 345.13 L391.75 345.12 L392.06 345.1 L392.38 345.08 L392.69 345.06 L393 345.04 L393.32 345.01 L393.63 344.98 L393.94 344.94 L394.25 344.9 L394.57 344.85 L394.88 344.8 L395.19 344.74 L395.5 344.67 L395.82 344.6 L396.13 344.52 L396.44 344.43 L396.75 344.33 L397.07 344.22 L397.38 344.11 L397.69 343.98 L398 343.85 L398.32 343.71 L398.63 343.55 L398.94 343.39 L399.25 343.22 L399.57 343.05 L399.88 342.86 L400.19 342.67 L400.5 342.47 L400.82 342.26 L401.13 342.05 L401.44 341.84 L401.75 341.62 L402.07 341.39 L402.38 341.17 L402.69 340.94 L403 340.72 L403.32 340.49 L403.63 340.26 L403.94 340.03 L404.25 339.8 L404.57 339.57 L404.88 339.34 L405.19 339.1 L405.51 338.86 L405.82 338.61 L406.13 338.36 L406.44 338.09 L406.76 337.81 L407.07 337.51 L407.38 337.2 L407.69 336.86 L408.01 336.49 L408.32 336.09 L408.63 335.65 L408.94 335.18 L409.26 334.66 L409.57 334.09 L409.88 333.47 L410.19 332.78 L410.51 332.04 L410.82 331.23 L411.13 330.36 L411.44 329.41 L411.76 328.39 L412.07 327.29 L412.38 326.12 L412.69 324.87 L413.01 323.55 L413.32 322.15 L413.63 320.67 L413.94 319.13 L414.26 317.52 L414.57 315.85 L414.88 314.13 L415.19 312.36 L415.51 310.56 L415.82 308.72 L416.13 306.87 L416.44 305.01 L416.76 303.15 L417.07 301.31 L417.38 299.51 L417.69 297.75 L418.01 296.05 L418.32 294.43 L418.63 292.91 L418.95 291.5 L419.26 290.21 L419.57 289.08 L419.88 288.1 L420.2 287.32 L420.51 286.74 L420.82 286.4 L421.13 286.4 L421.45 286.94 L421.76 287.87 L422.07 289.16 L422.38 290.74 L422.7 292.58 L423.01 294.64 L423.32 296.86 L423.63 299.23 L423.95 301.7 L424.26 304.24 L424.57 306.81 L424.88 309.39 L425.2 311.95 L425.51 314.47 L425.82 316.93 L426.13 319.3 L426.45 321.58 L426.76 323.75 L427.07 325.8 L427.38 327.73 L427.7 329.54 L428.01 331.22 L428.32 332.76 L428.63 334.19 L428.95 335.48 L429.26 336.66 L429.57 337.73 L429.88 338.69 L430.2 339.55 L430.51 340.31 L430.82 340.99 L431.14 341.59 L431.45 342.11 L431.76 342.57 L432.07 342.97 L432.39 343.31 L432.7 343.61 L433.01 343.87 L433.32 344.09 L433.64 344.27 L433.95 344.43 L434.26 344.56 L434.57 344.68 L434.89 344.77 L435.2 344.85 L435.51 344.91 L435.82 344.97 L436.14 345.01 L436.45 345.05 L436.76 345.08 L437.07 345.1 L437.39 345.12 L437.7 345.14 L438.01 345.15 L438.32 345.16 L438.64 345.17 L438.95 345.18 L439.26 345.18 L439.57 345.19 L439.89 345.19 L440.2 345.19 L440.51 345.19 L440.82 345.19 L441.14 345.2 L441.45 345.2 L441.76 345.2 L442.07 345.2 L442.39 345.2 L442.7 345.2" fill="none" stroke="#c22a4c" stroke-width="0.9" stroke-linejoin="round"/>
<rect x="380.3" y="282.8" width="62.6" height="62.4" fill="none" stroke="#1a1a1a" stroke-width="1.2"/>
<text x="411.3" y="278.2" font-size="7.2" text-anchor="middle" fill="#222" font-weight="normal" font-style="normal" stroke="#222" stroke-width="0.22">WSU-AML</text>
<line x1="380" y1="366.1" x2="438.3" y2="366.1" stroke="#111" stroke-width="1.2"/>
<path d="M437.3 364 L442.8 366.1 L437.3 368.2 Z" fill="#111" stroke="none" stroke-width="1"/>
<text x="0" y="0" font-size="7.2" text-anchor="middle" fill="#222" font-weight="bold" font-style="normal" transform="translate(411.9,376) scale(0.65,1)" letter-spacing="0.8">FOLR1 (MFI = 54.63)</text>
<line x1="453" y1="311" x2="465.4" y2="311" stroke="#c02c4c" stroke-width="1"/>
<text x="469.2" y="313.6" font-size="7.2" text-anchor="start" fill="#222" font-weight="normal" font-style="normal" stroke="#222" stroke-width="0.22">anti-FOLR1</text>
<line x1="453" y1="322.8" x2="465.4" y2="322.8" stroke="#2a5576" stroke-width="1"/>
<text x="469.2" y="325.4" font-size="7.2" text-anchor="start" fill="#222" font-weight="normal" font-style="normal" stroke="#222" stroke-width="0.22">Isotype control</text>
<text x="0.6" y="398.6" font-size="11" text-anchor="start" fill="#111" font-weight="bold" font-style="normal" stroke="#111" stroke-width="0.55">C</text>
<line x1="57.5" y1="400.2" x2="57.5" y2="467.5" stroke="#1a1a1a" stroke-width="1.2"/>
<line x1="56.9" y1="466.9" x2="156.5" y2="466.9" stroke="#1a1a1a" stroke-width="1.3"/>
<line x1="54.7" y1="466.9" x2="57.5" y2="466.9" stroke="#222" stroke-width="0.9"/>
<text x="51.6" y="469.5" font-size="8" text-anchor="end" fill="#333" font-weight="normal" font-style="normal" stroke="#333" stroke-width="0.22">0</text>
<line x1="54.7" y1="454.18" x2="57.5" y2="454.18" stroke="#222" stroke-width="0.9"/>
<text x="51.6" y="456.78" font-size="8" text-anchor="end" fill="#333" font-weight="normal" font-style="normal" stroke="#333" stroke-width="0.22">25</text>
<line x1="54.7" y1="441.46" x2="57.5" y2="441.46" stroke="#222" stroke-width="0.9"/>
<text x="51.6" y="444.06" font-size="8" text-anchor="end" fill="#333" font-weight="normal" font-style="normal" stroke="#333" stroke-width="0.22">50</text>
<line x1="54.7" y1="428.74" x2="57.5" y2="428.74" stroke="#222" stroke-width="0.9"/>
<text x="51.6" y="431.34" font-size="8" text-anchor="end" fill="#333" font-weight="normal" font-style="normal" stroke="#333" stroke-width="0.22">75</text>
<line x1="54.7" y1="416.02" x2="57.5" y2="416.02" stroke="#222" stroke-width="0.9"/>
<text x="51.6" y="418.62" font-size="8" text-anchor="end" fill="#333" font-weight="normal" font-style="normal" stroke="#333" stroke-width="0.22">100</text>
<line x1="54.7" y1="403.3" x2="57.5" y2="403.3" stroke="#222" stroke-width="0.9"/>
<text x="51.6" y="405.9" font-size="8" text-anchor="end" fill="#333" font-weight="normal" font-style="normal" stroke="#333" stroke-width="0.22">125</text>
<line x1="57.5" y1="466.9" x2="57.5" y2="469.7" stroke="#222" stroke-width="0.9"/>
<text x="57.5" y="480.2" font-size="7.9" text-anchor="middle" fill="#333" font-weight="normal" font-style="normal" stroke="#333" stroke-width="0.22">0.01</text>
<line x1="76.75" y1="466.9" x2="76.75" y2="469.7" stroke="#222" stroke-width="0.9"/>
<text x="76.75" y="480.2" font-size="7.9" text-anchor="middle" fill="#333" font-weight="normal" font-style="normal" stroke="#333" stroke-width="0.22">0.1</text>
<line x1="96" y1="466.9" x2="96" y2="469.7" stroke="#222" stroke-width="0.9"/>
<text x="96" y="480.2" font-size="7.9" text-anchor="middle" fill="#333" font-weight="normal" font-style="normal" stroke="#333" stroke-width="0.22">1</text>
<line x1="115.25" y1="466.9" x2="115.25" y2="469.7" stroke="#222" stroke-width="0.9"/>
<text x="115.25" y="480.2" font-size="7.9" text-anchor="middle" fill="#333" font-weight="normal" font-style="normal" stroke="#333" stroke-width="0.22">10</text>
<line x1="134.5" y1="466.9" x2="134.5" y2="469.7" stroke="#222" stroke-width="0.9"/>
<text x="134.5" y="480.2" font-size="7.9" text-anchor="middle" fill="#333" font-weight="normal" font-style="normal" stroke="#333" stroke-width="0.22">100</text>
<line x1="153.75" y1="466.9" x2="153.75" y2="469.7" stroke="#222" stroke-width="0.9"/>
<text x="153.75" y="480.2" font-size="7.9" text-anchor="middle" fill="#333" font-weight="normal" font-style="normal" stroke="#333" stroke-width="0.22">1000</text>
<path d="M69.36 416.02 L70.05 416.02 L70.75 416.02 L71.44 416.02 L72.14 416.02 L72.83 416.02 L73.53 416.02 L74.23 416.02 L74.92 416.02 L75.62 416.02 L76.31 416.02 L77.01 416.02 L77.7 416.02 L78.4 416.02 L79.1 416.02 L79.79 416.02 L80.49 416.02 L81.18 416.02 L81.88 416.02 L82.57 416.02 L83.27 416.02 L83.97 416.02 L84.66 416.02 L85.36 416.03 L86.05 416.03 L86.75 416.03 L87.44 416.03 L88.14 416.03 L88.84 416.03 L89.53 416.03 L90.23 416.03 L90.92 416.03 L91.62 416.04 L92.32 416.04 L93.01 416.04 L93.71 416.04 L94.4 416.05 L95.1 416.05 L95.79 416.06 L96.49 416.06 L97.19 416.07 L97.88 416.07 L98.58 416.08 L99.27 416.09 L99.97 416.09 L100.66 416.1 L101.36 416.12 L102.06 416.13 L102.75 416.14 L103.45 416.16 L104.14 416.18 L104.84 416.2 L105.53 416.22 L106.23 416.25 L106.93 416.28 L107.62 416.31 L108.32 416.35 L109.01 416.39 L109.71 416.44 L110.4 416.5 L111.1 416.56 L111.8 416.63 L112.49 416.71 L113.19 416.81 L113.88 416.91 L114.58 417.02 L115.27 417.16 L115.97 417.3 L116.67 417.47 L117.36 417.65 L118.06 417.86 L118.75 418.1 L119.45 418.36 L120.15 418.66 L120.84 418.99 L121.54 419.36 L122.23 419.77 L122.93 420.23 L123.62 420.74 L124.32 421.3 L125.02 421.92 L125.71 422.6 L126.41 423.35 L127.1 424.17 L127.8 425.07 L128.49 426.04 L129.19 427.08 L129.89 428.2 L130.58 429.4 L131.28 430.67 L131.97 432.01 L132.67 433.42 L133.36 434.88 L134.06 436.4 L134.76 437.95 L135.45 439.53 L136.15 441.13 L136.84 442.73 L137.54 444.33 L138.23 445.91 L138.93 447.45 L139.63 448.95 L140.32 450.4 L141.02 451.79 L141.71 453.11 L142.41 454.36 L143.11 455.54 L143.8 456.64 L144.5 457.67 L145.19 458.61 L145.89 459.49 L146.58 460.29 L147.28 461.02 L147.98 461.69 L148.67 462.29 L149.37 462.84 L150.06 463.33 L150.76 463.78 L151.45 464.18 L152.15 464.53" fill="none" stroke="#2f8a5c" stroke-width="1.05" stroke-linejoin="round"/>
<path d="M69.36 416.02 L70.05 416.02 L70.75 416.02 L71.44 416.02 L72.14 416.02 L72.83 416.02 L73.53 416.02 L74.23 416.02 L74.92 416.02 L75.62 416.02 L76.31 416.02 L77.01 416.02 L77.7 416.02 L78.4 416.02 L79.1 416.02 L79.79 416.02 L80.49 416.02 L81.18 416.02 L81.88 416.02 L82.57 416.02 L83.27 416.03 L83.97 416.03 L84.66 416.03 L85.36 416.03 L86.05 416.03 L86.75 416.03 L87.44 416.03 L88.14 416.03 L88.84 416.03 L89.53 416.04 L90.23 416.04 L90.92 416.04 L91.62 416.04 L92.32 416.05 L93.01 416.05 L93.71 416.05 L94.4 416.06 L95.1 416.06 L95.79 416.07 L96.49 416.08 L97.19 416.08 L97.88 416.09 L98.58 416.1 L99.27 416.11 L99.97 416.13 L100.66 416.14 L101.36 416.16 L102.06 416.17 L102.75 416.19 L103.45 416.22 L104.14 416.24 L104.84 416.27 L105.53 416.31 L106.23 416.34 L106.93 416.39 L107.62 416.44 L108.32 416.49 L109.01 416.55 L109.71 416.62 L110.4 416.7 L111.1 416.79 L111.8 416.89 L112.49 417.01 L113.19 417.13 L113.88 417.28 L114.58 417.44 L115.27 417.62 L115.97 417.83 L116.67 418.06 L117.36 418.32 L118.06 418.61 L118.75 418.93 L119.45 419.3 L120.15 419.7 L120.84 420.15 L121.54 420.65 L122.23 421.2 L122.93 421.82 L123.62 422.49 L124.32 423.23 L125.02 424.04 L125.71 424.92 L126.41 425.88 L127.1 426.91 L127.8 428.02 L128.49 429.2 L129.19 430.46 L129.89 431.8 L130.58 433.19 L131.28 434.65 L131.97 436.15 L132.67 437.7 L133.36 439.28 L134.06 440.88 L134.76 442.48 L135.45 444.08 L136.15 445.66 L136.84 447.2 L137.54 448.71 L138.23 450.17 L138.93 451.57 L139.63 452.9 L140.32 454.17 L141.02 455.36 L141.71 456.47 L142.41 457.51 L143.11 458.47 L143.8 459.35 L144.5 460.16 L145.19 460.91 L145.89 461.58 L146.58 462.2 L147.28 462.75 L147.98 463.26 L148.67 463.71 L149.37 464.11 L150.06 464.48 L150.76 464.81 L151.45 465.1 L152.15 465.36" fill="none" stroke="#1f5270" stroke-width="1.05" stroke-linejoin="round"/>
<path d="M69.36 431.13 L70.05 431.79 L70.75 432.47 L71.44 433.15 L72.14 433.85 L72.83 434.55 L73.53 435.26 L74.23 435.98 L74.92 436.7 L75.62 437.43 L76.31 438.16 L77.01 438.9 L77.7 439.64 L78.4 440.37 L79.1 441.11 L79.79 441.85 L80.49 442.58 L81.18 443.31 L81.88 444.03 L82.57 444.75 L83.27 445.46 L83.97 446.17 L84.66 446.86 L85.36 447.55 L86.05 448.22 L86.75 448.88 L87.44 449.54 L88.14 450.17 L88.84 450.8 L89.53 451.41 L90.23 452.01 L90.92 452.6 L91.62 453.16 L92.32 453.72 L93.01 454.26 L93.71 454.78 L94.4 455.29 L95.1 455.78 L95.79 456.26 L96.49 456.72 L97.19 457.16 L97.88 457.59 L98.58 458.01 L99.27 458.41 L99.97 458.79 L100.66 459.17 L101.36 459.52 L102.06 459.86 L102.75 460.19 L103.45 460.51 L104.14 460.81 L104.84 461.1 L105.53 461.38 L106.23 461.65 L106.93 461.9 L107.62 462.14 L108.32 462.38 L109.01 462.6 L109.71 462.81 L110.4 463.01 L111.1 463.21 L111.8 463.39 L112.49 463.57 L113.19 463.74 L113.88 463.9 L114.58 464.05 L115.27 464.19 L115.97 464.33 L116.67 464.46 L117.36 464.59 L118.06 464.7 L118.75 464.82 L119.45 464.92 L120.15 465.03 L120.84 465.12 L121.54 465.22 L122.23 465.3 L122.93 465.39 L123.62 465.46 L124.32 465.54 L125.02 465.61 L125.71 465.68 L126.41 465.74 L127.1 465.8 L127.8 465.86 L128.49 465.91 L129.19 465.97 L129.89 466.02 L130.58 466.06 L131.28 466.11 L131.97 466.15 L132.67 466.19 L133.36 466.23 L134.06 466.26 L134.76 466.29 L135.45 466.33 L136.15 466.36 L136.84 466.39 L137.54 466.41 L138.23 466.44 L138.93 466.46 L139.63 466.49 L140.32 466.51 L141.02 466.53 L141.71 466.55 L142.41 466.57 L143.11 466.59 L143.8 466.6 L144.5 466.62 L145.19 466.63 L145.89 466.65 L146.58 466.66 L147.28 466.67 L147.98 466.69 L148.67 466.7 L149.37 466.71 L150.06 466.72 L150.76 466.73 L151.45 466.74 L152.15 466.75" fill="none" stroke="#bb173e" stroke-width="1.25" stroke-linejoin="round"/>
<line x1="69.36" y1="414.49" x2="69.36" y2="417.55" stroke="#3b9e48" stroke-width="0.7"/>
<line x1="67.86" y1="414.49" x2="70.86" y2="414.49" stroke="#3b9e48" stroke-width="0.7"/>
<line x1="67.86" y1="417.55" x2="70.86" y2="417.55" stroke="#3b9e48" stroke-width="0.7"/>
<circle cx="69.36" cy="416.02" r="1.5" fill="#3b9e48"/>
<line x1="75.15" y1="414.49" x2="75.15" y2="418.56" stroke="#3b9e48" stroke-width="0.7"/>
<line x1="73.65" y1="414.49" x2="76.65" y2="414.49" stroke="#3b9e48" stroke-width="0.7"/>
<line x1="73.65" y1="418.56" x2="76.65" y2="418.56" stroke="#3b9e48" stroke-width="0.7"/>
<circle cx="75.15" cy="416.53" r="1.5" fill="#3b9e48"/>
<line x1="88.61" y1="416.02" x2="88.61" y2="420.09" stroke="#3b9e48" stroke-width="0.7"/>
<line x1="87.11" y1="416.02" x2="90.11" y2="416.02" stroke="#3b9e48" stroke-width="0.7"/>
<line x1="87.11" y1="420.09" x2="90.11" y2="420.09" stroke="#3b9e48" stroke-width="0.7"/>
<circle cx="88.61" cy="418.06" r="1.5" fill="#3b9e48"/>
<line x1="94.4" y1="417.04" x2="94.4" y2="420.09" stroke="#3b9e48" stroke-width="0.7"/>
<line x1="92.9" y1="417.04" x2="95.9" y2="417.04" stroke="#3b9e48" stroke-width="0.7"/>
<line x1="92.9" y1="420.09" x2="95.9" y2="420.09" stroke="#3b9e48" stroke-width="0.7"/>
<circle cx="94.4" cy="418.56" r="1.5" fill="#3b9e48"/>
<line x1="107.86" y1="415.51" x2="107.86" y2="425.69" stroke="#3b9e48" stroke-width="0.7"/>
<line x1="106.36" y1="415.51" x2="109.36" y2="415.51" stroke="#3b9e48" stroke-width="0.7"/>
<line x1="106.36" y1="425.69" x2="109.36" y2="425.69" stroke="#3b9e48" stroke-width="0.7"/>
<circle cx="107.86" cy="420.6" r="1.5" fill="#3b9e48"/>
<line x1="113.65" y1="421.62" x2="113.65" y2="427.72" stroke="#3b9e48" stroke-width="0.7"/>
<line x1="112.15" y1="421.62" x2="115.15" y2="421.62" stroke="#3b9e48" stroke-width="0.7"/>
<line x1="112.15" y1="427.72" x2="115.15" y2="427.72" stroke="#3b9e48" stroke-width="0.7"/>
<circle cx="113.65" cy="424.67" r="1.5" fill="#3b9e48"/>
<line x1="127.11" y1="423.14" x2="127.11" y2="429.25" stroke="#3b9e48" stroke-width="0.7"/>
<line x1="125.61" y1="423.14" x2="128.61" y2="423.14" stroke="#3b9e48" stroke-width="0.7"/>
<line x1="125.61" y1="429.25" x2="128.61" y2="429.25" stroke="#3b9e48" stroke-width="0.7"/>
<circle cx="127.11" cy="426.2" r="1.5" fill="#3b9e48"/>
<line x1="132.9" y1="439.42" x2="132.9" y2="443.5" stroke="#3b9e48" stroke-width="0.7"/>
<line x1="131.4" y1="439.42" x2="134.4" y2="439.42" stroke="#3b9e48" stroke-width="0.7"/>
<line x1="131.4" y1="443.5" x2="134.4" y2="443.5" stroke="#3b9e48" stroke-width="0.7"/>
<circle cx="132.9" cy="441.46" r="1.5" fill="#3b9e48"/>
<circle cx="152.15" cy="466.39" r="1.5" fill="#3b9e48"/>
<line x1="69.36" y1="410.42" x2="69.36" y2="414.49" stroke="#173a5c" stroke-width="0.7"/>
<line x1="67.86" y1="410.42" x2="70.86" y2="410.42" stroke="#173a5c" stroke-width="0.7"/>
<line x1="67.86" y1="414.49" x2="70.86" y2="414.49" stroke="#173a5c" stroke-width="0.7"/>
<circle cx="69.36" cy="412.46" r="1.5" fill="#173a5c"/>
<line x1="75.15" y1="411.44" x2="75.15" y2="415.51" stroke="#173a5c" stroke-width="0.7"/>
<line x1="73.65" y1="411.44" x2="76.65" y2="411.44" stroke="#173a5c" stroke-width="0.7"/>
<line x1="73.65" y1="415.51" x2="76.65" y2="415.51" stroke="#173a5c" stroke-width="0.7"/>
<circle cx="75.15" cy="413.48" r="1.5" fill="#173a5c"/>
<line x1="88.61" y1="414.49" x2="88.61" y2="419.58" stroke="#173a5c" stroke-width="0.7"/>
<line x1="87.11" y1="414.49" x2="90.11" y2="414.49" stroke="#173a5c" stroke-width="0.7"/>
<line x1="87.11" y1="419.58" x2="90.11" y2="419.58" stroke="#173a5c" stroke-width="0.7"/>
<circle cx="88.61" cy="417.04" r="1.5" fill="#173a5c"/>
<line x1="94.4" y1="413.98" x2="94.4" y2="420.09" stroke="#173a5c" stroke-width="0.7"/>
<line x1="92.9" y1="413.98" x2="95.9" y2="413.98" stroke="#173a5c" stroke-width="0.7"/>
<line x1="92.9" y1="420.09" x2="95.9" y2="420.09" stroke="#173a5c" stroke-width="0.7"/>
<circle cx="94.4" cy="417.04" r="1.5" fill="#173a5c"/>
<line x1="107.86" y1="415" x2="107.86" y2="419.07" stroke="#173a5c" stroke-width="0.7"/>
<line x1="106.36" y1="415" x2="109.36" y2="415" stroke="#173a5c" stroke-width="0.7"/>
<line x1="106.36" y1="419.07" x2="109.36" y2="419.07" stroke="#173a5c" stroke-width="0.7"/>
<circle cx="107.86" cy="417.04" r="1.5" fill="#173a5c"/>
<line x1="113.65" y1="413.48" x2="113.65" y2="421.62" stroke="#173a5c" stroke-width="0.7"/>
<line x1="112.15" y1="413.48" x2="115.15" y2="413.48" stroke="#173a5c" stroke-width="0.7"/>
<line x1="112.15" y1="421.62" x2="115.15" y2="421.62" stroke="#173a5c" stroke-width="0.7"/>
<circle cx="113.65" cy="417.55" r="1.5" fill="#173a5c"/>
<line x1="127.11" y1="428.23" x2="127.11" y2="431.28" stroke="#173a5c" stroke-width="0.7"/>
<line x1="125.61" y1="428.23" x2="128.61" y2="428.23" stroke="#173a5c" stroke-width="0.7"/>
<line x1="125.61" y1="431.28" x2="128.61" y2="431.28" stroke="#173a5c" stroke-width="0.7"/>
<circle cx="127.11" cy="429.76" r="1.5" fill="#173a5c"/>
<line x1="132.9" y1="436.37" x2="132.9" y2="441.46" stroke="#173a5c" stroke-width="0.7"/>
<line x1="131.4" y1="436.37" x2="134.4" y2="436.37" stroke="#173a5c" stroke-width="0.7"/>
<line x1="131.4" y1="441.46" x2="134.4" y2="441.46" stroke="#173a5c" stroke-width="0.7"/>
<circle cx="132.9" cy="438.92" r="1.5" fill="#173a5c"/>
<circle cx="152.15" cy="466.39" r="1.5" fill="#173a5c"/>
<line x1="69.36" y1="423.14" x2="69.36" y2="426.2" stroke="#bb173e" stroke-width="0.7"/>
<line x1="67.86" y1="423.14" x2="70.86" y2="423.14" stroke="#bb173e" stroke-width="0.7"/>
<line x1="67.86" y1="426.2" x2="70.86" y2="426.2" stroke="#bb173e" stroke-width="0.7"/>
<circle cx="69.36" cy="424.67" r="1.3" fill="#961030"/>
<line x1="75.15" y1="436.88" x2="75.15" y2="439.93" stroke="#bb173e" stroke-width="0.7"/>
<line x1="73.65" y1="436.88" x2="76.65" y2="436.88" stroke="#bb173e" stroke-width="0.7"/>
<line x1="73.65" y1="439.93" x2="76.65" y2="439.93" stroke="#bb173e" stroke-width="0.7"/>
<circle cx="75.15" cy="438.41" r="1.3" fill="#961030"/>
<circle cx="88.61" cy="455.71" r="1.3" fill="#961030"/>
<circle cx="94.4" cy="455.71" r="1.3" fill="#961030"/>
<circle cx="107.86" cy="457.74" r="1.3" fill="#961030"/>
<circle cx="113.65" cy="457.74" r="1.3" fill="#961030"/>
<line x1="127.11" y1="456.22" x2="127.11" y2="461.3" stroke="#bb173e" stroke-width="0.7"/>
<line x1="125.61" y1="456.22" x2="128.61" y2="456.22" stroke="#bb173e" stroke-width="0.7"/>
<line x1="125.61" y1="461.3" x2="128.61" y2="461.3" stroke="#bb173e" stroke-width="0.7"/>
<circle cx="127.11" cy="458.76" r="1.3" fill="#961030"/>
<line x1="132.9" y1="460.79" x2="132.9" y2="462.83" stroke="#bb173e" stroke-width="0.7"/>
<line x1="131.4" y1="460.79" x2="134.4" y2="460.79" stroke="#bb173e" stroke-width="0.7"/>
<line x1="131.4" y1="462.83" x2="134.4" y2="462.83" stroke="#bb173e" stroke-width="0.7"/>
<circle cx="132.9" cy="461.81" r="1.3" fill="#961030"/>
<circle cx="152.15" cy="466.39" r="1.3" fill="#961030"/>
<text x="0" y="0" font-size="8.4" text-anchor="middle" fill="#222" font-weight="bold" font-style="normal" transform="translate(20.5,435.5) rotate(-90) scale(0.65,1)" letter-spacing="0.5">Viability</text>
<text x="0" y="0" font-size="8.2" text-anchor="middle" fill="#222" font-weight="bold" font-style="normal" transform="translate(32.7,435.5) rotate(-90) scale(0.67,1)" letter-spacing="0.5">(percent of untreated)</text>
<text x="0" y="0" font-size="8.6" text-anchor="middle" fill="#222" font-weight="bold" font-style="normal" transform="translate(105.6,492.7) scale(0.65,1)" letter-spacing="0.8">ADC (nM)</text>
<text x="184" y="498.8" font-size="7.3" text-anchor="end" fill="#222" font-weight="normal" font-style="normal" stroke="#222" stroke-width="0.22">IC50 (nM)</text>
<line x1="152.5" y1="501.5" x2="184" y2="501.5" stroke="#111" stroke-width="1"/>
<line x1="13.4" y1="507.7" x2="24" y2="507.7" stroke="#c43a5a" stroke-width="1"/>
<circle cx="18.6" cy="507.7" r="1.9" fill="#a8102e"/>
<text x="27.1" y="510.3" font-size="7.55" fill="#222" stroke="#222" stroke-width="0.1">MV4;11 <tspan font-style="italic">FOLR1+</tspan>/ STRO-002</text>
<text x="183.8" y="510.3" font-size="7.5" text-anchor="end" fill="#222" font-weight="normal" font-style="normal" stroke="#222" stroke-width="0.1">0.1</text>
<line x1="13.4" y1="520.2" x2="24" y2="520.2" stroke="#3a5e80" stroke-width="1"/>
<circle cx="18.6" cy="520.2" r="1.9" fill="#173a5c"/>
<text x="27.1" y="522.8" font-size="7.55" fill="#222" stroke="#222" stroke-width="0.1">MV4;11 <tspan font-style="italic">FOLR1+</tspan>/ STRO-002 + SP8166</text>
<text x="183.8" y="522.8" font-size="7.5" text-anchor="end" fill="#222" font-weight="normal" font-style="normal" stroke="#222" stroke-width="0.1">95.6</text>
<line x1="13.4" y1="532.7" x2="24" y2="532.7" stroke="#5cb060" stroke-width="1"/>
<circle cx="18.6" cy="532.7" r="1.9" fill="#3a9a40"/>
<text x="27.1" y="535.3" font-size="7.55" fill="#222" stroke="#222" stroke-width="0.1">MV4;11/ STRO-002</text>
<text x="196.8" y="398.6" font-size="11" text-anchor="start" fill="#111" font-weight="bold" font-style="normal" stroke="#111" stroke-width="0.55">E</text>
<line x1="240.6" y1="402.3" x2="240.6" y2="470.4" stroke="#1a1a1a" stroke-width="1.2"/>
<line x1="240" y1="469.8" x2="341.5" y2="469.8" stroke="#1a1a1a" stroke-width="1.3"/>
<line x1="237.8" y1="469.8" x2="240.6" y2="469.8" stroke="#222" stroke-width="0.9"/>
<text x="234.7" y="472.4" font-size="8" text-anchor="end" fill="#333" font-weight="normal" font-style="normal" stroke="#333" stroke-width="0.22">0</text>
<line x1="237.8" y1="456.95" x2="240.6" y2="456.95" stroke="#222" stroke-width="0.9"/>
<text x="234.7" y="459.55" font-size="8" text-anchor="end" fill="#333" font-weight="normal" font-style="normal" stroke="#333" stroke-width="0.22">25</text>
<line x1="237.8" y1="444.1" x2="240.6" y2="444.1" stroke="#222" stroke-width="0.9"/>
<text x="234.7" y="446.7" font-size="8" text-anchor="end" fill="#333" font-weight="normal" font-style="normal" stroke="#333" stroke-width="0.22">50</text>
<line x1="237.8" y1="431.25" x2="240.6" y2="431.25" stroke="#222" stroke-width="0.9"/>
<text x="234.7" y="433.85" font-size="8" text-anchor="end" fill="#333" font-weight="normal" font-style="normal" stroke="#333" stroke-width="0.22">75</text>
<line x1="237.8" y1="418.4" x2="240.6" y2="418.4" stroke="#222" stroke-width="0.9"/>
<text x="234.7" y="421" font-size="8" text-anchor="end" fill="#333" font-weight="normal" font-style="normal" stroke="#333" stroke-width="0.22">100</text>
<line x1="237.8" y1="405.55" x2="240.6" y2="405.55" stroke="#222" stroke-width="0.9"/>
<text x="234.7" y="408.15" font-size="8" text-anchor="end" fill="#333" font-weight="normal" font-style="normal" stroke="#333" stroke-width="0.22">125</text>
<line x1="240.6" y1="469.8" x2="240.6" y2="472.6" stroke="#222" stroke-width="0.9"/>
<text x="240.6" y="483.1" font-size="7.9" text-anchor="middle" fill="#333" font-weight="normal" font-style="normal" stroke="#333" stroke-width="0.22">0.01</text>
<line x1="260.1" y1="469.8" x2="260.1" y2="472.6" stroke="#222" stroke-width="0.9"/>
<text x="260.1" y="483.1" font-size="7.9" text-anchor="middle" fill="#333" font-weight="normal" font-style="normal" stroke="#333" stroke-width="0.22">0.1</text>
<line x1="279.6" y1="469.8" x2="279.6" y2="472.6" stroke="#222" stroke-width="0.9"/>
<text x="279.6" y="483.1" font-size="7.9" text-anchor="middle" fill="#333" font-weight="normal" font-style="normal" stroke="#333" stroke-width="0.22">1</text>
<line x1="299.1" y1="469.8" x2="299.1" y2="472.6" stroke="#222" stroke-width="0.9"/>
<text x="299.1" y="483.1" font-size="7.9" text-anchor="middle" fill="#333" font-weight="normal" font-style="normal" stroke="#333" stroke-width="0.22">10</text>
<line x1="318.6" y1="469.8" x2="318.6" y2="472.6" stroke="#222" stroke-width="0.9"/>
<text x="318.6" y="483.1" font-size="7.9" text-anchor="middle" fill="#333" font-weight="normal" font-style="normal" stroke="#333" stroke-width="0.22">100</text>
<line x1="338.1" y1="469.8" x2="338.1" y2="472.6" stroke="#222" stroke-width="0.9"/>
<text x="338.1" y="483.1" font-size="7.9" text-anchor="middle" fill="#333" font-weight="normal" font-style="normal" stroke="#333" stroke-width="0.22">1000</text>
<path d="M240.6 418.4 L241.42 418.4 L242.24 418.4 L243.06 418.4 L243.88 418.4 L244.7 418.4 L245.52 418.4 L246.34 418.4 L247.15 418.4 L247.97 418.4 L248.79 418.4 L249.61 418.4 L250.43 418.4 L251.25 418.4 L252.07 418.4 L252.89 418.4 L253.71 418.4 L254.53 418.4 L255.35 418.4 L256.17 418.4 L256.99 418.4 L257.81 418.4 L258.63 418.4 L259.44 418.4 L260.26 418.4 L261.08 418.4 L261.9 418.4 L262.72 418.4 L263.54 418.4 L264.36 418.4 L265.18 418.4 L266 418.4 L266.82 418.4 L267.64 418.4 L268.46 418.4 L269.28 418.4 L270.1 418.4 L270.92 418.4 L271.73 418.4 L272.55 418.4 L273.37 418.4 L274.19 418.4 L275.01 418.4 L275.83 418.4 L276.65 418.4 L277.47 418.4 L278.29 418.4 L279.11 418.4 L279.93 418.4 L280.75 418.4 L281.57 418.4 L282.39 418.4 L283.21 418.4 L284.02 418.4 L284.84 418.4 L285.66 418.4 L286.48 418.4 L287.3 418.4 L288.12 418.4 L288.94 418.4 L289.76 418.4 L290.58 418.4 L291.4 418.4 L292.22 418.4 L293.04 418.4 L293.86 418.4 L294.68 418.4 L295.49 418.4 L296.31 418.4 L297.13 418.4 L297.95 418.41 L298.77 418.41 L299.59 418.41 L300.41 418.42 L301.23 418.43 L302.05 418.44 L302.87 418.45 L303.69 418.47 L304.51 418.5 L305.33 418.54 L306.15 418.6 L306.97 418.69 L307.78 418.8 L308.6 418.97 L309.42 419.2 L310.24 419.53 L311.06 419.98 L311.88 420.62 L312.7 421.48 L313.52 422.66 L314.34 424.24 L315.16 426.3 L315.98 428.91 L316.8 432.12 L317.62 435.9 L318.44 440.11 L319.26 444.55 L320.07 448.97 L320.89 453.1 L321.71 456.77 L322.53 459.86 L323.35 462.36 L324.17 464.32 L324.99 465.8 L325.81 466.91 L326.63 467.73 L327.45 468.32 L328.27 468.75 L329.09 469.05 L329.91 469.27 L330.73 469.42 L331.55 469.53 L332.36 469.61 L333.18 469.67 L334 469.71 L334.82 469.73 L335.64 469.75 L336.46 469.77 L337.28 469.78 L338.1 469.78" fill="none" stroke="#2c5b82" stroke-width="1.25" stroke-linejoin="round"/>
<path d="M240.6 425.6 L241.42 425.9 L242.24 426.2 L243.06 426.5 L243.88 426.81 L244.7 427.11 L245.52 427.41 L246.34 427.71 L247.15 428.01 L247.97 428.32 L248.79 428.62 L249.61 428.92 L250.43 429.22 L251.25 429.53 L252.07 429.83 L252.89 430.13 L253.71 430.43 L254.53 430.74 L255.35 431.04 L256.17 431.34 L256.99 431.64 L257.81 431.95 L258.63 432.25 L259.44 432.55 L260.26 432.85 L261.08 433.15 L261.9 433.46 L262.72 433.76 L263.54 434.06 L264.36 434.36 L265.18 434.67 L266 434.97 L266.82 435.27 L267.64 435.57 L268.46 435.88 L269.28 436.18 L270.1 436.48 L270.92 436.78 L271.73 437.09 L272.55 437.39 L273.37 437.69 L274.19 437.99 L275.01 438.29 L275.83 438.6 L276.65 438.9 L277.47 439.2 L278.29 439.5 L279.11 439.81 L279.93 440.11 L280.75 440.41 L281.57 440.71 L282.39 441.02 L283.21 441.32 L284.02 441.62 L284.84 441.92 L285.66 442.23 L286.48 442.53 L287.3 442.83 L288.12 443.13 L288.94 443.43 L289.76 443.74 L290.58 444.04 L291.4 444.34 L292.22 444.64 L293.04 444.95 L293.86 445.25 L294.68 445.55 L295.49 445.85 L296.31 446.16 L297.13 446.46 L297.95 446.76 L298.77 447.06 L299.59 447.37 L300.41 447.67 L301.23 447.97 L302.05 448.27 L302.87 448.57 L303.69 448.88 L304.51 449.18 L305.33 449.48 L306.15 449.78 L306.97 450.09 L307.78 450.39 L308.6 450.69 L309.42 450.99 L310.24 451.3 L311.06 451.6 L311.88 451.9 L312.7 452.2 L313.52 452.51 L314.34 452.81 L315.16 453.11 L315.98 453.41 L316.8 453.71 L317.62 454.02 L318.44 454.32 L319.26 454.62 L320.07 454.92 L320.89 455.23 L321.71 455.53 L322.53 455.83 L323.35 456.13 L324.17 456.44 L324.99 456.74 L325.81 457.04 L326.63 457.34 L327.45 457.65 L328.27 457.95 L329.09 458.25 L329.91 458.55 L330.73 458.85 L331.55 459.16 L332.36 459.46 L333.18 459.76 L334 460.06 L334.82 460.37 L335.64 460.67 L336.46 460.97 L337.28 461.27 L338.1 461.58" fill="none" stroke="#bb173e" stroke-width="1.25" stroke-linejoin="round"/>
<circle cx="240.6" cy="418.4" r="1.5" fill="#173a5c"/>
<line x1="254.23" y1="416.34" x2="254.23" y2="420.46" stroke="#173a5c" stroke-width="0.7"/>
<line x1="252.73" y1="416.34" x2="255.73" y2="416.34" stroke="#173a5c" stroke-width="0.7"/>
<line x1="252.73" y1="420.46" x2="255.73" y2="420.46" stroke="#173a5c" stroke-width="0.7"/>
<circle cx="254.23" cy="418.4" r="1.5" fill="#173a5c"/>
<line x1="260.1" y1="413.77" x2="260.1" y2="422" stroke="#173a5c" stroke-width="0.7"/>
<line x1="258.6" y1="413.77" x2="261.6" y2="413.77" stroke="#173a5c" stroke-width="0.7"/>
<line x1="258.6" y1="422" x2="261.6" y2="422" stroke="#173a5c" stroke-width="0.7"/>
<circle cx="260.1" cy="417.89" r="1.5" fill="#173a5c"/>
<line x1="273.73" y1="416.34" x2="273.73" y2="420.46" stroke="#173a5c" stroke-width="0.7"/>
<line x1="272.23" y1="416.34" x2="275.23" y2="416.34" stroke="#173a5c" stroke-width="0.7"/>
<line x1="272.23" y1="420.46" x2="275.23" y2="420.46" stroke="#173a5c" stroke-width="0.7"/>
<circle cx="273.73" cy="418.4" r="1.5" fill="#173a5c"/>
<line x1="279.6" y1="414.29" x2="279.6" y2="421.48" stroke="#173a5c" stroke-width="0.7"/>
<line x1="278.1" y1="414.29" x2="281.1" y2="414.29" stroke="#173a5c" stroke-width="0.7"/>
<line x1="278.1" y1="421.48" x2="281.1" y2="421.48" stroke="#173a5c" stroke-width="0.7"/>
<circle cx="279.6" cy="417.89" r="1.5" fill="#173a5c"/>
<line x1="293.23" y1="417.89" x2="293.23" y2="423.03" stroke="#173a5c" stroke-width="0.7"/>
<line x1="291.73" y1="417.89" x2="294.73" y2="417.89" stroke="#173a5c" stroke-width="0.7"/>
<line x1="291.73" y1="423.03" x2="294.73" y2="423.03" stroke="#173a5c" stroke-width="0.7"/>
<circle cx="293.23" cy="420.46" r="1.5" fill="#173a5c"/>
<line x1="299.1" y1="419.94" x2="299.1" y2="423.03" stroke="#173a5c" stroke-width="0.7"/>
<line x1="297.6" y1="419.94" x2="300.6" y2="419.94" stroke="#173a5c" stroke-width="0.7"/>
<line x1="297.6" y1="423.03" x2="300.6" y2="423.03" stroke="#173a5c" stroke-width="0.7"/>
<circle cx="299.1" cy="421.48" r="1.5" fill="#173a5c"/>
<line x1="312.73" y1="418.4" x2="312.73" y2="426.62" stroke="#173a5c" stroke-width="0.7"/>
<line x1="311.23" y1="418.4" x2="314.23" y2="418.4" stroke="#173a5c" stroke-width="0.7"/>
<line x1="311.23" y1="426.62" x2="314.23" y2="426.62" stroke="#173a5c" stroke-width="0.7"/>
<circle cx="312.73" cy="422.51" r="1.5" fill="#173a5c"/>
<line x1="318.6" y1="439.47" x2="318.6" y2="443.59" stroke="#173a5c" stroke-width="0.7"/>
<line x1="317.1" y1="439.47" x2="320.1" y2="439.47" stroke="#173a5c" stroke-width="0.7"/>
<line x1="317.1" y1="443.59" x2="320.1" y2="443.59" stroke="#173a5c" stroke-width="0.7"/>
<circle cx="318.6" cy="441.53" r="1.5" fill="#173a5c"/>
<circle cx="338.1" cy="469.8" r="1.5" fill="#173a5c"/>
<line x1="240.6" y1="423.54" x2="240.6" y2="425.6" stroke="#bb173e" stroke-width="0.7"/>
<line x1="239.1" y1="423.54" x2="242.1" y2="423.54" stroke="#bb173e" stroke-width="0.7"/>
<line x1="239.1" y1="425.6" x2="242.1" y2="425.6" stroke="#bb173e" stroke-width="0.7"/>
<circle cx="240.6" cy="424.57" r="1.5" fill="#961030"/>
<circle cx="254.23" cy="432.28" r="1.5" fill="#961030"/>
<line x1="260.1" y1="432.79" x2="260.1" y2="434.85" stroke="#bb173e" stroke-width="0.7"/>
<line x1="258.6" y1="432.79" x2="261.6" y2="432.79" stroke="#bb173e" stroke-width="0.7"/>
<line x1="258.6" y1="434.85" x2="261.6" y2="434.85" stroke="#bb173e" stroke-width="0.7"/>
<circle cx="260.1" cy="433.82" r="1.5" fill="#961030"/>
<line x1="273.73" y1="436.9" x2="273.73" y2="438.96" stroke="#bb173e" stroke-width="0.7"/>
<line x1="272.23" y1="436.9" x2="275.23" y2="436.9" stroke="#bb173e" stroke-width="0.7"/>
<line x1="272.23" y1="438.96" x2="275.23" y2="438.96" stroke="#bb173e" stroke-width="0.7"/>
<circle cx="273.73" cy="437.93" r="1.5" fill="#961030"/>
<circle cx="279.6" cy="438.45" r="1.5" fill="#961030"/>
<circle cx="293.23" cy="442.56" r="1.5" fill="#961030"/>
<circle cx="299.1" cy="442.56" r="1.5" fill="#961030"/>
<circle cx="312.73" cy="452.32" r="1.5" fill="#961030"/>
<line x1="318.6" y1="454.38" x2="318.6" y2="457.46" stroke="#bb173e" stroke-width="0.7"/>
<line x1="317.1" y1="454.38" x2="320.1" y2="454.38" stroke="#bb173e" stroke-width="0.7"/>
<line x1="317.1" y1="457.46" x2="320.1" y2="457.46" stroke="#bb173e" stroke-width="0.7"/>
<circle cx="318.6" cy="455.92" r="1.5" fill="#961030"/>
<line x1="338.1" y1="466.72" x2="338.1" y2="469.8" stroke="#bb173e" stroke-width="0.7"/>
<line x1="336.6" y1="466.72" x2="339.6" y2="466.72" stroke="#bb173e" stroke-width="0.7"/>
<line x1="336.6" y1="469.8" x2="339.6" y2="469.8" stroke="#bb173e" stroke-width="0.7"/>
<circle cx="338.1" cy="468.26" r="1.5" fill="#961030"/>
<text x="0" y="0" font-size="8.4" text-anchor="middle" fill="#222" font-weight="bold" font-style="normal" transform="translate(204,436.7) rotate(-90) scale(0.65,1)" letter-spacing="0.5">Viability</text>
<text x="0" y="0" font-size="8.2" text-anchor="middle" fill="#222" font-weight="bold" font-style="normal" transform="translate(215.5,436.7) rotate(-90) scale(0.67,1)" letter-spacing="0.5">(percent of untreated)</text>
<text x="0" y="0" font-size="8.6" text-anchor="middle" fill="#222" font-weight="bold" font-style="normal" transform="translate(289.8,495.9) scale(0.65,1)" letter-spacing="0.8">ADC (nM)</text>
<text x="345.2" y="506.1" font-size="7.3" text-anchor="end" fill="#222" font-weight="normal" font-style="normal" stroke="#222" stroke-width="0.22">IC50 (nM)</text>
<line x1="313.7" y1="508.9" x2="345.2" y2="508.9" stroke="#111" stroke-width="1"/>
<line x1="201" y1="515.3" x2="211.6" y2="515.3" stroke="#c43a5a" stroke-width="1"/>
<circle cx="206.2" cy="515.3" r="1.9" fill="#a8102e"/>
<text x="215" y="517.9" font-size="7.55" fill="#222" stroke="#222" stroke-width="0.1">STRO-002</text>
<text x="345.2" y="517.9" font-size="7.5" text-anchor="end" fill="#222" font-weight="normal" font-style="normal" stroke="#222" stroke-width="0.1">4.2</text>
<line x1="201" y1="527.8" x2="211.6" y2="527.8" stroke="#3a5e80" stroke-width="1"/>
<circle cx="206.2" cy="527.8" r="1.9" fill="#173a5c"/>
<text x="215" y="530.4" font-size="7.55" fill="#222" stroke="#222" stroke-width="0.1">STRO-002 + SP8166</text>
<text x="345.2" y="530.4" font-size="7.5" text-anchor="end" fill="#222" font-weight="normal" font-style="normal" stroke="#222" stroke-width="0.1">106.6</text>
<text x="359.6" y="398.6" font-size="11" text-anchor="start" fill="#111" font-weight="bold" font-style="normal" stroke="#111" stroke-width="0.55">G</text>
<line x1="403.3" y1="396.2" x2="403.3" y2="470.5" stroke="#1a1a1a" stroke-width="1.2"/>
<line x1="402.7" y1="469.9" x2="512.5" y2="469.9" stroke="#1a1a1a" stroke-width="1.3"/>
<line x1="400.5" y1="469.9" x2="403.3" y2="469.9" stroke="#222" stroke-width="0.9"/>
<text x="397.4" y="472.5" font-size="8" text-anchor="end" fill="#333" font-weight="normal" font-style="normal" stroke="#333" stroke-width="0.22">0</text>
<line x1="400.5" y1="455.8" x2="403.3" y2="455.8" stroke="#222" stroke-width="0.9"/>
<text x="397.4" y="458.4" font-size="8" text-anchor="end" fill="#333" font-weight="normal" font-style="normal" stroke="#333" stroke-width="0.22">25</text>
<line x1="400.5" y1="441.7" x2="403.3" y2="441.7" stroke="#222" stroke-width="0.9"/>
<text x="397.4" y="444.3" font-size="8" text-anchor="end" fill="#333" font-weight="normal" font-style="normal" stroke="#333" stroke-width="0.22">50</text>
<line x1="400.5" y1="427.6" x2="403.3" y2="427.6" stroke="#222" stroke-width="0.9"/>
<text x="397.4" y="430.2" font-size="8" text-anchor="end" fill="#333" font-weight="normal" font-style="normal" stroke="#333" stroke-width="0.22">75</text>
<line x1="400.5" y1="413.5" x2="403.3" y2="413.5" stroke="#222" stroke-width="0.9"/>
<text x="397.4" y="416.1" font-size="8" text-anchor="end" fill="#333" font-weight="normal" font-style="normal" stroke="#333" stroke-width="0.22">100</text>
<line x1="400.5" y1="399.4" x2="403.3" y2="399.4" stroke="#222" stroke-width="0.9"/>
<text x="397.4" y="402" font-size="8" text-anchor="end" fill="#333" font-weight="normal" font-style="normal" stroke="#333" stroke-width="0.22">125</text>
<line x1="403.3" y1="469.9" x2="403.3" y2="472.7" stroke="#222" stroke-width="0.9"/>
<text x="403.3" y="483.2" font-size="7.9" text-anchor="middle" fill="#333" font-weight="normal" font-style="normal" stroke="#333" stroke-width="0.22">0.01</text>
<line x1="424.8" y1="469.9" x2="424.8" y2="472.7" stroke="#222" stroke-width="0.9"/>
<text x="424.8" y="483.2" font-size="7.9" text-anchor="middle" fill="#333" font-weight="normal" font-style="normal" stroke="#333" stroke-width="0.22">0.1</text>
<line x1="446.3" y1="469.9" x2="446.3" y2="472.7" stroke="#222" stroke-width="0.9"/>
<text x="446.3" y="483.2" font-size="7.9" text-anchor="middle" fill="#333" font-weight="normal" font-style="normal" stroke="#333" stroke-width="0.22">1</text>
<line x1="467.8" y1="469.9" x2="467.8" y2="472.7" stroke="#222" stroke-width="0.9"/>
<text x="467.8" y="483.2" font-size="7.9" text-anchor="middle" fill="#333" font-weight="normal" font-style="normal" stroke="#333" stroke-width="0.22">10</text>
<line x1="489.3" y1="469.9" x2="489.3" y2="472.7" stroke="#222" stroke-width="0.9"/>
<text x="489.3" y="483.2" font-size="7.9" text-anchor="middle" fill="#333" font-weight="normal" font-style="normal" stroke="#333" stroke-width="0.22">100</text>
<line x1="510.8" y1="469.9" x2="510.8" y2="472.7" stroke="#222" stroke-width="0.9"/>
<text x="510.8" y="483.2" font-size="7.9" text-anchor="middle" fill="#333" font-weight="normal" font-style="normal" stroke="#333" stroke-width="0.22">1000</text>
<path d="M403.3 413.5 L404.2 413.5 L405.11 413.5 L406.01 413.5 L406.91 413.5 L407.82 413.5 L408.72 413.5 L409.62 413.5 L410.53 413.5 L411.43 413.5 L412.33 413.5 L413.24 413.5 L414.14 413.5 L415.04 413.5 L415.95 413.5 L416.85 413.5 L417.75 413.5 L418.66 413.5 L419.56 413.5 L420.46 413.5 L421.37 413.5 L422.27 413.5 L423.17 413.5 L424.08 413.5 L424.98 413.5 L425.88 413.5 L426.79 413.5 L427.69 413.5 L428.59 413.5 L429.5 413.5 L430.4 413.5 L431.3 413.5 L432.21 413.5 L433.11 413.5 L434.01 413.5 L434.92 413.5 L435.82 413.5 L436.72 413.5 L437.63 413.5 L438.53 413.5 L439.43 413.5 L440.34 413.5 L441.24 413.5 L442.14 413.5 L443.05 413.5 L443.95 413.5 L444.85 413.5 L445.76 413.5 L446.66 413.5 L447.56 413.5 L448.47 413.5 L449.37 413.5 L450.27 413.5 L451.18 413.5 L452.08 413.5 L452.98 413.5 L453.89 413.5 L454.79 413.5 L455.69 413.5 L456.6 413.5 L457.5 413.5 L458.41 413.5 L459.31 413.5 L460.21 413.5 L461.12 413.5 L462.02 413.5 L462.92 413.5 L463.83 413.5 L464.73 413.5 L465.63 413.5 L466.54 413.5 L467.44 413.5 L468.34 413.51 L469.25 413.51 L470.15 413.51 L471.05 413.51 L471.96 413.52 L472.86 413.52 L473.76 413.53 L474.67 413.54 L475.57 413.56 L476.47 413.58 L477.38 413.61 L478.28 413.64 L479.18 413.69 L480.09 413.75 L480.99 413.84 L481.89 413.95 L482.8 414.1 L483.7 414.3 L484.6 414.57 L485.51 414.92 L486.41 415.38 L487.31 415.98 L488.22 416.77 L489.12 417.79 L490.02 419.09 L490.93 420.73 L491.83 422.76 L492.73 425.24 L493.64 428.16 L494.54 431.52 L495.44 435.25 L496.35 439.23 L497.25 443.32 L498.15 447.33 L499.06 451.13 L499.96 454.57 L500.86 457.59 L501.77 460.15 L502.67 462.28 L503.57 464 L504.48 465.36 L505.38 466.44 L506.28 467.27 L507.19 467.91 L508.09 468.4 L508.99 468.77 L509.9 469.05 L510.8 469.26" fill="none" stroke="#2c5b82" stroke-width="1.25" stroke-linejoin="round"/>
<path d="M403.3 413.5 L404.2 413.5 L405.11 413.5 L406.01 413.5 L406.91 413.5 L407.82 413.5 L408.72 413.5 L409.62 413.5 L410.53 413.5 L411.43 413.5 L412.33 413.5 L413.24 413.5 L414.14 413.5 L415.04 413.5 L415.95 413.5 L416.85 413.5 L417.75 413.5 L418.66 413.51 L419.56 413.51 L420.46 413.51 L421.37 413.51 L422.27 413.51 L423.17 413.51 L424.08 413.51 L424.98 413.51 L425.88 413.51 L426.79 413.52 L427.69 413.52 L428.59 413.52 L429.5 413.52 L430.4 413.52 L431.3 413.53 L432.21 413.53 L433.11 413.53 L434.01 413.54 L434.92 413.54 L435.82 413.55 L436.72 413.55 L437.63 413.56 L438.53 413.57 L439.43 413.58 L440.34 413.59 L441.24 413.6 L442.14 413.61 L443.05 413.62 L443.95 413.64 L444.85 413.65 L445.76 413.67 L446.66 413.69 L447.56 413.72 L448.47 413.74 L449.37 413.77 L450.27 413.81 L451.18 413.84 L452.08 413.89 L452.98 413.93 L453.89 413.99 L454.79 414.04 L455.69 414.11 L456.6 414.19 L457.5 414.27 L458.41 414.36 L459.31 414.47 L460.21 414.58 L461.12 414.71 L462.02 414.86 L462.92 415.02 L463.83 415.2 L464.73 415.41 L465.63 415.63 L466.54 415.88 L467.44 416.16 L468.34 416.47 L469.25 416.82 L470.15 417.2 L471.05 417.62 L471.96 418.09 L472.86 418.6 L473.76 419.16 L474.67 419.78 L475.57 420.46 L476.47 421.2 L477.38 422.01 L478.28 422.88 L479.18 423.82 L480.09 424.84 L480.99 425.93 L481.89 427.09 L482.8 428.32 L483.7 429.62 L484.6 430.99 L485.51 432.43 L486.41 433.91 L487.31 435.45 L488.22 437.02 L489.12 438.63 L490.02 440.25 L490.93 441.89 L491.83 443.52 L492.73 445.15 L493.64 446.75 L494.54 448.31 L495.44 449.84 L496.35 451.31 L497.25 452.73 L498.15 454.08 L499.06 455.37 L499.96 456.59 L500.86 457.73 L501.77 458.8 L502.67 459.8 L503.57 460.73 L504.48 461.58 L505.38 462.37 L506.28 463.1 L507.19 463.76 L508.09 464.37 L508.99 464.92 L509.9 465.43 L510.8 465.88" fill="none" stroke="#bb173e" stroke-width="1.25" stroke-linejoin="round"/>
<circle cx="403.3" cy="410.12" r="1.5" fill="#173a5c"/>
<line x1="418.33" y1="405.6" x2="418.33" y2="411.24" stroke="#173a5c" stroke-width="0.7"/>
<line x1="416.83" y1="405.6" x2="419.83" y2="405.6" stroke="#173a5c" stroke-width="0.7"/>
<line x1="416.83" y1="411.24" x2="419.83" y2="411.24" stroke="#173a5c" stroke-width="0.7"/>
<circle cx="418.33" cy="408.42" r="1.5" fill="#173a5c"/>
<circle cx="424.8" cy="410.4" r="1.5" fill="#173a5c"/>
<line x1="439.83" y1="408.42" x2="439.83" y2="410.68" stroke="#173a5c" stroke-width="0.7"/>
<line x1="438.33" y1="408.42" x2="441.33" y2="408.42" stroke="#173a5c" stroke-width="0.7"/>
<line x1="438.33" y1="410.68" x2="441.33" y2="410.68" stroke="#173a5c" stroke-width="0.7"/>
<circle cx="439.83" cy="409.55" r="1.5" fill="#173a5c"/>
<circle cx="446.3" cy="408.99" r="1.5" fill="#173a5c"/>
<line x1="461.33" y1="406.73" x2="461.33" y2="411.24" stroke="#173a5c" stroke-width="0.7"/>
<line x1="459.83" y1="406.73" x2="462.83" y2="406.73" stroke="#173a5c" stroke-width="0.7"/>
<line x1="459.83" y1="411.24" x2="462.83" y2="411.24" stroke="#173a5c" stroke-width="0.7"/>
<circle cx="461.33" cy="408.99" r="1.5" fill="#173a5c"/>
<line x1="467.8" y1="408.99" x2="467.8" y2="412.37" stroke="#173a5c" stroke-width="0.7"/>
<line x1="466.3" y1="408.99" x2="469.3" y2="408.99" stroke="#173a5c" stroke-width="0.7"/>
<line x1="466.3" y1="412.37" x2="469.3" y2="412.37" stroke="#173a5c" stroke-width="0.7"/>
<circle cx="467.8" cy="410.68" r="1.5" fill="#173a5c"/>
<circle cx="482.83" cy="415.76" r="1.5" fill="#173a5c"/>
<circle cx="489.3" cy="418.58" r="1.5" fill="#173a5c"/>
<circle cx="510.8" cy="469.9" r="1.5" fill="#173a5c"/>
<line x1="403.3" y1="408.99" x2="403.3" y2="418.01" stroke="#bb173e" stroke-width="0.7"/>
<line x1="401.8" y1="408.99" x2="404.8" y2="408.99" stroke="#bb173e" stroke-width="0.7"/>
<line x1="401.8" y1="418.01" x2="404.8" y2="418.01" stroke="#bb173e" stroke-width="0.7"/>
<circle cx="403.3" cy="413.5" r="1.5" fill="#961030"/>
<line x1="418.33" y1="409.83" x2="418.33" y2="416.6" stroke="#bb173e" stroke-width="0.7"/>
<line x1="416.83" y1="409.83" x2="419.83" y2="409.83" stroke="#bb173e" stroke-width="0.7"/>
<line x1="416.83" y1="416.6" x2="419.83" y2="416.6" stroke="#bb173e" stroke-width="0.7"/>
<circle cx="418.33" cy="413.22" r="1.5" fill="#961030"/>
<circle cx="424.8" cy="413.5" r="1.5" fill="#961030"/>
<line x1="439.83" y1="412.37" x2="439.83" y2="418.01" stroke="#bb173e" stroke-width="0.7"/>
<line x1="438.33" y1="412.37" x2="441.33" y2="412.37" stroke="#bb173e" stroke-width="0.7"/>
<line x1="438.33" y1="418.01" x2="441.33" y2="418.01" stroke="#bb173e" stroke-width="0.7"/>
<circle cx="439.83" cy="415.19" r="1.5" fill="#961030"/>
<line x1="446.3" y1="410.68" x2="446.3" y2="414.06" stroke="#bb173e" stroke-width="0.7"/>
<line x1="444.8" y1="410.68" x2="447.8" y2="410.68" stroke="#bb173e" stroke-width="0.7"/>
<line x1="444.8" y1="414.06" x2="447.8" y2="414.06" stroke="#bb173e" stroke-width="0.7"/>
<circle cx="446.3" cy="412.37" r="1.5" fill="#961030"/>
<line x1="461.33" y1="407.86" x2="461.33" y2="416.88" stroke="#bb173e" stroke-width="0.7"/>
<line x1="459.83" y1="407.86" x2="462.83" y2="407.86" stroke="#bb173e" stroke-width="0.7"/>
<line x1="459.83" y1="416.88" x2="462.83" y2="416.88" stroke="#bb173e" stroke-width="0.7"/>
<circle cx="461.33" cy="412.37" r="1.5" fill="#961030"/>
<circle cx="467.8" cy="418.58" r="1.5" fill="#961030"/>
<line x1="482.83" y1="429.29" x2="482.83" y2="431.55" stroke="#bb173e" stroke-width="0.7"/>
<line x1="481.33" y1="429.29" x2="484.33" y2="429.29" stroke="#bb173e" stroke-width="0.7"/>
<line x1="481.33" y1="431.55" x2="484.33" y2="431.55" stroke="#bb173e" stroke-width="0.7"/>
<circle cx="482.83" cy="430.42" r="1.5" fill="#961030"/>
<line x1="489.3" y1="433.8" x2="489.3" y2="438.32" stroke="#bb173e" stroke-width="0.7"/>
<line x1="487.8" y1="433.8" x2="490.8" y2="433.8" stroke="#bb173e" stroke-width="0.7"/>
<line x1="487.8" y1="438.32" x2="490.8" y2="438.32" stroke="#bb173e" stroke-width="0.7"/>
<circle cx="489.3" cy="436.06" r="1.5" fill="#961030"/>
<circle cx="510.8" cy="469.9" r="1.5" fill="#961030"/>
<text x="0" y="0" font-size="8.4" text-anchor="middle" fill="#222" font-weight="bold" font-style="normal" transform="translate(366.5,435.3) rotate(-90) scale(0.65,1)" letter-spacing="0.5">Viability</text>
<text x="0" y="0" font-size="8.2" text-anchor="middle" fill="#222" font-weight="bold" font-style="normal" transform="translate(377.2,435.3) rotate(-90) scale(0.67,1)" letter-spacing="0.5">(percent of untreated)</text>
<text x="0" y="0" font-size="8.6" text-anchor="middle" fill="#222" font-weight="bold" font-style="normal" transform="translate(456.9,496.7) scale(0.65,1)" letter-spacing="0.8">ADC (nM)</text>
<text x="518.1" y="506.3" font-size="7.3" text-anchor="end" fill="#222" font-weight="normal" font-style="normal" stroke="#222" stroke-width="0.22">IC50 (nM)</text>
<line x1="486.6" y1="509.2" x2="518.1" y2="509.2" stroke="#111" stroke-width="1"/>
<line x1="386.7" y1="515.3" x2="397.3" y2="515.3" stroke="#c43a5a" stroke-width="1"/>
<circle cx="391.9" cy="515.3" r="1.9" fill="#a8102e"/>
<text x="400.7" y="517.9" font-size="7.55" fill="#222" stroke="#222" stroke-width="0.1">STRO-002</text>
<text x="518.1" y="517.9" font-size="7.5" text-anchor="end" fill="#222" font-weight="normal" font-style="normal" stroke="#222" stroke-width="0.1">117.7</text>
<line x1="386.7" y1="527.6" x2="397.3" y2="527.6" stroke="#3a5e80" stroke-width="1"/>
<circle cx="391.9" cy="527.6" r="1.9" fill="#173a5c"/>
<text x="400.7" y="530.2" font-size="7.55" fill="#222" stroke="#222" stroke-width="0.1">STRO-002 + SP8166</text>
<text x="518.1" y="530.2" font-size="7.5" text-anchor="end" fill="#222" font-weight="normal" font-style="normal" stroke="#222" stroke-width="0.1">225.5</text>
</svg>
</body></html>
